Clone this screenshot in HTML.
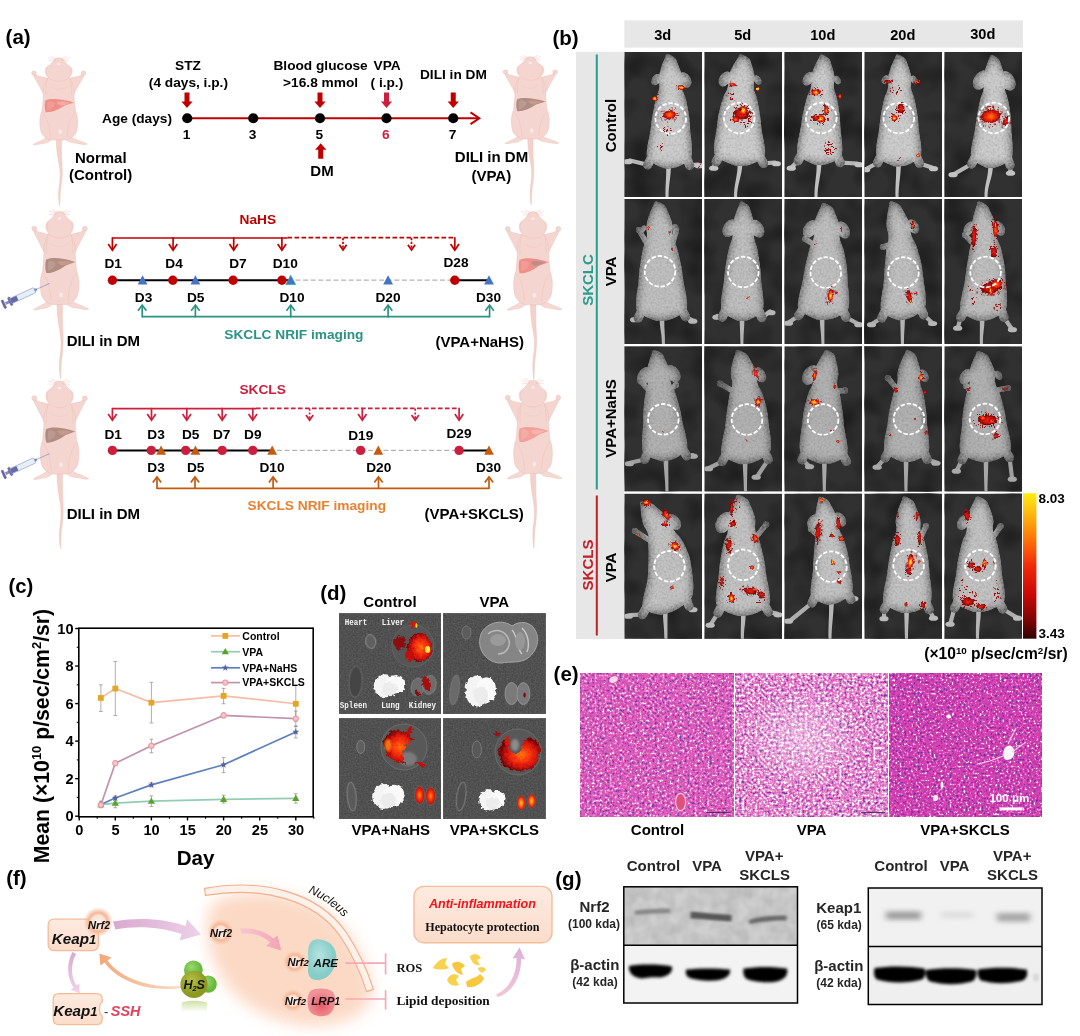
<!DOCTYPE html>
<html lang="en"><head><meta charset="utf-8"><title>Figure</title>
<style>
html,body{margin:0;padding:0;background:#fff;}
body{width:1080px;height:1036px;overflow:hidden;}
svg{display:block;font-family:"Liberation Sans",Arial,sans-serif;}
</style></head><body>
<svg width="1080" height="1036" viewBox="0 0 1080 1036">
<defs>

<symbol id="cm" overflow="visible">
  <!-- tail -->
  <path d="M-2.6 92 C-2.4 104 -1.2 112 0.6 122 C2.2 132 1.4 140 0.2 148 C-0.6 156 0 162 0.9 168 C1.4 160 1.2 154 2 148 C3.4 138 4 130 3.2 120 C2.6 110 2.8 102 2.8 92Z" fill="#f3d2cb" stroke="#e9c0b8" stroke-width="0.5"/>
  <!-- feet -->
  <path d="M-12 90 C-16 94 -21 95 -26 98.5 C-24 99.5 -20 98 -17 97.5 C-14 97.5 -10 96 -7 93Z" fill="#f6d9d3" stroke="#e9c0b8" stroke-width="0.5"/>
  <path d="M12 90 C16 93 22 94 29 98 C26 99.5 21 97.6 18 97 C14 97 10 96 7 93Z" fill="#f6d9d3" stroke="#e9c0b8" stroke-width="0.5"/>
  <!-- arms -->
  <path d="M-11 23.5 L-21 21 L-26.5 17.5 L-25 22.5 C-21 30 -18 36 -15.7 41 L-9 34Z" fill="#f5d5cf" stroke="#e9c0b8" stroke-width="0.5"/>
  <path d="M11 23.5 L21 21 L26.5 17.5 L25 22.5 C21 30 18 36 15.7 41 L9 34Z" fill="#f5d5cf" stroke="#e9c0b8" stroke-width="0.5"/>
  <circle cx="-25.3" cy="17.6" r="2.4" fill="#f3d6d0" stroke="#e6beb6" stroke-width="0.5"/>
  <circle cx="25.3" cy="17.6" r="2.4" fill="#f3d6d0" stroke="#e6beb6" stroke-width="0.5"/>
  <!-- torso -->
  <path d="M-10.4 22 C-14 28 -16 34 -15.7 40 C-15.5 48 -16.6 54 -17 60 C-19.5 66 -20 74 -18.5 82 C-17.6 88 -13 92.5 -6 93.5 L6 93.5 C13 92.5 17.6 88 18.5 82 C20 74 19.5 66 17 60 C16.6 54 15.5 48 15.7 40 C16 34 14 28 10.4 22Z" fill="#f5d5cf" stroke="#e9c0b8" stroke-width="0.5"/>
  <!-- head -->
  <path d="M-4 1.5 C-6 5 -8 8 -12 10.5 C-14.5 13 -14 18 -12 21 C-9 25.5 -4 27 0 27 C4 27 9 25.5 12 21 C14 18 14.5 13 12 10.5 C8 8 6 5 4 1.5 C2 0 -2 0 -4 1.5Z" fill="#f5d5cf" stroke="#e9c0b8" stroke-width="0.5"/>
  <!-- whiskers -->
  <path d="M-3 2.5L-11 0.2M-3 3.5L-10.5 3.6M3 2.5L11 0.2M3 3.5L10.5 3.6M-2 1.5L-8 -1.5M2 1.5L8 -1.5" stroke="#f0c4bc" stroke-width="0.5" fill="none"/>
  <ellipse cx="0" cy="7.5" rx="1.8" ry="1.3" fill="#fbeeea"/>
  <ellipse cx="1.5" cy="84" rx="1.7" ry="2.4" fill="#fbeae6"/>
  <path d="M-9 32 C-6 35 -3 36 0 36M9 32C6 35 3 36 0 36" stroke="#ecc8c0" stroke-width="0.5" fill="none"/>
  <path d="M-17 62 C-12 68 -9 78 -8.5 90M17 62 C12 68 9 78 8.5 90M-11.5 24C-13 30 -13.5 36 -13 42M11.5 24C13 30 13.5 36 13 42" stroke="#ebc4bc" stroke-width="0.55" fill="none"/>
  <path d="M-11 11C-13.5 13 -13 17.5 -11 20M11 11C13.5 13 13 17.5 11 20" stroke="#ebc4bc" stroke-width="0.5" fill="none"/>
</symbol>
<symbol id="liver" overflow="visible">
  <path d="M-13.4 48.5 C-8 45.5 4 47 15.6 51 L6 54.5 C0 59 -7 62.5 -13.4 62 C-14.6 57 -14.6 52 -13.4 48.5Z"/>
</symbol>
<symbol id="syr" overflow="visible">
  <g transform="rotate(-24.5)">
    <rect x="-47" y="-4.6" width="2.2" height="9.2" rx="1" fill="#6a6aa8" stroke="#4c4c90" stroke-width="0.4"/>
    <rect x="-44" y="-1.4" width="6" height="2.8" fill="#8a8ac0"/>
    <rect x="-40" y="-4.4" width="2.4" height="8.8" rx="1" fill="#7070b0" stroke="#4c4c90" stroke-width="0.4"/>
    <rect x="-38" y="-2.8" width="26" height="5.6" rx="0.8" fill="#e6eef8" stroke="#8c9cc8" stroke-width="0.6"/>
    <rect x="-38" y="-2.4" width="7" height="4.8" fill="#6868a8"/>
    <path d="M-12 -1.6L-9.6 -0.9V0.9L-12 1.6Z" fill="#7886c0"/>
    <path d="M-9.6 0H4.5" stroke="#8088c0" stroke-width="0.6"/>
  </g>
</symbol>


<filter id="mshade" x="-10%" y="-10%" width="120%" height="120%" color-interpolation-filters="sRGB">
  <feGaussianBlur in="SourceAlpha" stdDeviation="4.6" result="b"/>
  <feColorMatrix in="b" type="matrix" values="0 0 0 0.56 0.25  0 0 0 0.56 0.25  0 0 0 0.56 0.25  0 0 0 0 1" result="c"/>
  <feGaussianBlur in="SourceAlpha" stdDeviation="0.6" result="e"/>
  <feComposite in="c" in2="e" operator="in" result="m"/>
  <feTurbulence type="fractalNoise" baseFrequency="0.45" numOctaves="2" seed="3" result="n"/>
  <feColorMatrix in="n" type="matrix" values="0 0 0 0.7 0.15  0 0 0 0.7 0.15  0 0 0 0.7 0.15  0 0 0 0 1" result="n2"/>
  <feComposite in="n2" in2="m" operator="in" result="n3"/>
  <feBlend in="n3" in2="m" mode="soft-light"/>
</filter>
<filter id="soft" x="-10%" y="-10%" width="120%" height="120%"><feGaussianBlur stdDeviation="0.5"/></filter>
<filter id="bgn" x="0" y="0" width="100%" height="100%" color-interpolation-filters="sRGB">
  <feTurbulence type="fractalNoise" baseFrequency="0.035" numOctaves="2" seed="8" result="t"/>
  <feColorMatrix in="t" type="matrix" values="0 0 0 0 0.1  0 0 0 0 0.1  0 0 0 0 0.1  0 0 0 1.8 -0.7"/>
</filter>
<filter id="rag" x="-30%" y="-30%" width="160%" height="160%">
  <feTurbulence type="fractalNoise" baseFrequency="0.45" numOctaves="2" seed="5" result="t"/>
  <feDisplacementMap in="SourceGraphic" in2="t" scale="3.2" xChannelSelector="R" yChannelSelector="G"/>
</filter>
<filter id="spk" x="-10%" y="-10%" width="120%" height="120%" color-interpolation-filters="sRGB">
  <feTurbulence type="turbulence" baseFrequency="0.5" numOctaves="2" seed="11" result="t"/>
  <feColorMatrix in="t" type="matrix" values="0 0 0 0 0.62  0 0 0 0 0.04  0 0 0 0 0.03  0 0 0 40 -12.5" result="m"/>
  <feComposite in="m" in2="SourceAlpha" operator="in"/>
</filter>
<radialGradient id="hotY"><stop offset="0" stop-color="#fff24a"/><stop offset="0.28" stop-color="#ffb31a"/><stop offset="0.5" stop-color="#ff5a0c"/><stop offset="0.78" stop-color="#d3140a"/><stop offset="1" stop-color="#7a0505"/></radialGradient>
<radialGradient id="hotO"><stop offset="0" stop-color="#ff8a14"/><stop offset="0.4" stop-color="#f53a0c"/><stop offset="0.8" stop-color="#c9110a"/><stop offset="1" stop-color="#6e0404"/></radialGradient>
<radialGradient id="hotR"><stop offset="0" stop-color="#f0240c"/><stop offset="0.6" stop-color="#c40f0a"/><stop offset="1" stop-color="#640303"/></radialGradient>
<linearGradient id="cbar" x1="0" y1="0" x2="0" y2="1"><stop offset="0" stop-color="#ffee10"/><stop offset="0.12" stop-color="#ffc010"/><stop offset="0.3" stop-color="#ff7a08"/><stop offset="0.5" stop-color="#f22a08"/><stop offset="0.7" stop-color="#c90808"/><stop offset="0.88" stop-color="#7a0404"/><stop offset="1" stop-color="#2e0202"/></linearGradient>


<filter id="dbg" x="0" y="0" width="100%" height="100%" color-interpolation-filters="sRGB">
  <feTurbulence type="fractalNoise" baseFrequency="0.6" numOctaves="2" seed="21" result="t"/>
  <feColorMatrix in="t" type="matrix" values="0 0 0 0.16 0.24  0 0 0 0.16 0.24  0 0 0 0.16 0.24  0 0 0 0 1"/>
</filter>
<filter id="oblur" x="-20%" y="-20%" width="140%" height="140%"><feGaussianBlur stdDeviation="0.7"/></filter>
<filter id="oblur2" x="-20%" y="-20%" width="140%" height="140%"><feGaussianBlur stdDeviation="1.3"/></filter>
<filter id="lungf" x="-20%" y="-20%" width="140%" height="140%">
  <feTurbulence type="fractalNoise" baseFrequency="0.25" numOctaves="2" seed="9" result="t"/>
  <feDisplacementMap in="SourceGraphic" in2="t" scale="5" xChannelSelector="R" yChannelSelector="G" result="d"/>
  <feGaussianBlur in="d" stdDeviation="0.5"/>
</filter>
<filter id="rag2" x="-30%" y="-30%" width="160%" height="160%">
  <feTurbulence type="fractalNoise" baseFrequency="0.3" numOctaves="2" seed="14" result="t"/>
  <feDisplacementMap in="SourceGraphic" in2="t" scale="6" xChannelSelector="R" yChannelSelector="G"/>
</filter>
<radialGradient id="hotL" cx="0.55" cy="0.5"><stop offset="0" stop-color="#ff7a10"/><stop offset="0.35" stop-color="#fb3c0a"/><stop offset="0.75" stop-color="#d6150a"/><stop offset="1" stop-color="#7c0606"/></radialGradient>
<radialGradient id="hotK"><stop offset="0" stop-color="#ffd21e"/><stop offset="0.4" stop-color="#ff760e"/><stop offset="0.8" stop-color="#e8200a"/><stop offset="1" stop-color="#a50b08"/></radialGradient>
<radialGradient id="hotK2"><stop offset="0" stop-color="#ff8a12"/><stop offset="0.5" stop-color="#f2300a"/><stop offset="1" stop-color="#b00c08"/></radialGradient>

<filter id="he1" x="0" y="0" width="100%" height="100%" color-interpolation-filters="sRGB"><feTurbulence type="fractalNoise" baseFrequency="0.4" numOctaves="2" seed="31" result="t"/><feColorMatrix in="t" type="matrix" values="0 0 0 1 0  0 0 0 1 0  0 0 0 1 0  0 0 0 0 1" result="g"/><feComponentTransfer in="g" result="cm"><feFuncR type="table" tableValues="0.439 0.439 0.439 0.439 0.439 0.439 0.439 0.439 0.439 0.439 0.439 0.464 0.587 0.710 0.790 0.804 0.819 0.833 0.847 0.853 0.859 0.865 0.871 0.877 0.889 0.902 0.915 0.930 0.953 0.977 1.000 1.000 1.000 1.000 1.000 1.000 1.000 1.000 1.000 1.000 1.000"/><feFuncG type="table" tableValues="0.243 0.243 0.243 0.243 0.243 0.243 0.243 0.243 0.243 0.243 0.243 0.246 0.260 0.274 0.287 0.300 0.312 0.325 0.337 0.351 0.364 0.378 0.392 0.405 0.457 0.518 0.579 0.648 0.751 0.854 0.957 0.957 0.957 0.957 0.957 0.957 0.957 0.957 0.957 0.957 0.957"/><feFuncB type="table" tableValues="0.659 0.659 0.659 0.659 0.659 0.659 0.659 0.659 0.659 0.659 0.659 0.661 0.672 0.683 0.693 0.700 0.707 0.714 0.722 0.728 0.734 0.740 0.746 0.752 0.772 0.796 0.820 0.849 0.895 0.942 0.988 0.988 0.988 0.988 0.988 0.988 0.988 0.988 0.988 0.988 0.988"/></feComponentTransfer><feGaussianBlur in="cm" stdDeviation="0.42" edgeMode="duplicate"/></filter><filter id="he2" x="0" y="0" width="100%" height="100%" color-interpolation-filters="sRGB"><feTurbulence type="fractalNoise" baseFrequency="0.38" numOctaves="2" seed="47" result="t"/><feColorMatrix in="t" type="matrix" values="0 0 0 1 0  0 0 0 1 0  0 0 0 1 0  0 0 0 0 1" result="g"/><feComponentTransfer in="g" result="cm"><feFuncR type="table" tableValues="0.439 0.439 0.439 0.439 0.439 0.439 0.439 0.439 0.439 0.439 0.439 0.523 0.663 0.803 0.838 0.846 0.855 0.863 0.872 0.881 0.893 0.906 0.918 0.931 0.948 0.967 0.985 1.000 1.000 1.000 1.000 1.000 1.000 1.000 1.000 1.000 1.000 1.000 1.000 1.000 1.000"/><feFuncG type="table" tableValues="0.243 0.243 0.243 0.243 0.243 0.243 0.243 0.243 0.243 0.243 0.243 0.267 0.306 0.345 0.370 0.391 0.412 0.433 0.454 0.480 0.526 0.573 0.619 0.665 0.737 0.816 0.894 0.957 0.957 0.957 0.957 0.957 0.957 0.957 0.957 0.957 0.957 0.957 0.957 0.957 0.957"/><feFuncB type="table" tableValues="0.659 0.659 0.659 0.659 0.659 0.659 0.659 0.659 0.659 0.659 0.659 0.672 0.695 0.717 0.729 0.739 0.749 0.759 0.769 0.780 0.800 0.820 0.839 0.859 0.891 0.925 0.960 0.988 0.988 0.988 0.988 0.988 0.988 0.988 0.988 0.988 0.988 0.988 0.988 0.988 0.988"/></feComponentTransfer><feGaussianBlur in="cm" stdDeviation="0.42" edgeMode="duplicate"/></filter><filter id="he3" x="0" y="0" width="100%" height="100%" color-interpolation-filters="sRGB"><feTurbulence type="fractalNoise" baseFrequency="0.44" numOctaves="2" seed="59" result="t"/><feColorMatrix in="t" type="matrix" values="0 0 0 1 0  0 0 0 1 0  0 0 0 1 0  0 0 0 0 1" result="g"/><feComponentTransfer in="g" result="cm"><feFuncR type="table" tableValues="0.408 0.408 0.408 0.408 0.408 0.408 0.408 0.408 0.408 0.408 0.408 0.408 0.511 0.640 0.769 0.778 0.787 0.796 0.805 0.814 0.819 0.823 0.827 0.832 0.836 0.845 0.876 0.907 0.938 0.969 1.000 1.000 1.000 1.000 1.000 1.000 1.000 1.000 1.000 1.000 1.000"/><feFuncG type="table" tableValues="0.227 0.227 0.227 0.227 0.227 0.227 0.227 0.227 0.227 0.227 0.227 0.227 0.221 0.212 0.204 0.213 0.222 0.231 0.240 0.249 0.259 0.269 0.278 0.288 0.298 0.326 0.427 0.528 0.650 0.803 0.957 0.957 0.957 0.957 0.957 0.957 0.957 0.957 0.957 0.957 0.957"/><feFuncB type="table" tableValues="0.627 0.627 0.627 0.627 0.627 0.627 0.627 0.627 0.627 0.627 0.627 0.627 0.636 0.648 0.659 0.665 0.671 0.677 0.683 0.689 0.695 0.700 0.706 0.711 0.717 0.729 0.769 0.808 0.858 0.923 0.988 0.988 0.988 0.988 0.988 0.988 0.988 0.988 0.988 0.988 0.988"/></feComponentTransfer><feGaussianBlur in="cm" stdDeviation="0.42" edgeMode="duplicate"/></filter><radialGradient id="vpaglow"><stop offset="0" stop-color="#fff" stop-opacity="0.42"/><stop offset="0.6" stop-color="#fff" stop-opacity="0.2"/><stop offset="1" stop-color="#fff" stop-opacity="0"/></radialGradient>

<radialGradient id="nrfg"><stop offset="0" stop-color="#fdeee6"/><stop offset="0.45" stop-color="#fbe2d6"/><stop offset="0.62" stop-color="#f5b694"/><stop offset="1" stop-color="#f7c0a2" stop-opacity="0"/></radialGradient>
<radialGradient id="nucg" cx="0.62" cy="0.45" r="0.62"><stop offset="0" stop-color="#fac8ac"/><stop offset="0.55" stop-color="#fbd6c0"/><stop offset="1" stop-color="#fde8dc" stop-opacity="0"/></radialGradient>
<linearGradient id="parr" x1="0" y1="0" x2="1" y2="0"><stop offset="0" stop-color="#d9a9cf"/><stop offset="1" stop-color="#ecd2e8"/></linearGradient>
<linearGradient id="parr2" x1="0" y1="0" x2="0" y2="1"><stop offset="0" stop-color="#d9a9cf"/><stop offset="1" stop-color="#f0d4ea"/></linearGradient>
<linearGradient id="parr3" x1="0" y1="1" x2="0" y2="0"><stop offset="0" stop-color="#f3c6d6"/><stop offset="1" stop-color="#dcb0d8"/></linearGradient>
<linearGradient id="oarr" x1="1" y1="0" x2="0" y2="0"><stop offset="0" stop-color="#f8dcc8"/><stop offset="1" stop-color="#f3a878"/></linearGradient>
<linearGradient id="pkarr" x1="0" y1="0" x2="1" y2="0"><stop offset="0" stop-color="#f8c6d0"/><stop offset="1" stop-color="#f2a4b6"/></linearGradient>
<linearGradient id="boxg" x1="0" y1="0" x2="0" y2="1"><stop offset="0" stop-color="#fdebe0"/><stop offset="1" stop-color="#fbdcca"/></linearGradient>
<radialGradient id="h2sg" cx="0.4" cy="0.35"><stop offset="0" stop-color="#b6c04a"/><stop offset="1" stop-color="#8c9a22"/></radialGradient>
<radialGradient id="grg" cx="0.4" cy="0.35"><stop offset="0" stop-color="#9ad870"/><stop offset="1" stop-color="#68b83c"/></radialGradient>
<linearGradient id="refl" x1="0" y1="0" x2="0" y2="1"><stop offset="0" stop-color="#a8c858" stop-opacity="0.55"/><stop offset="1" stop-color="#a8c858" stop-opacity="0"/></linearGradient>
<radialGradient id="areg" cx="0.4" cy="0.4"><stop offset="0" stop-color="#b4e4e0"/><stop offset="1" stop-color="#86ccc8"/></radialGradient>
<radialGradient id="lrpg" cx="0.5" cy="0.6"><stop offset="0" stop-color="#e65a66"/><stop offset="1" stop-color="#f0929a"/></radialGradient>
<filter id="fblur" x="-20%" y="-20%" width="140%" height="140%"><feGaussianBlur stdDeviation="7.5"/></filter>


<filter id="bb1" x="-30%" y="-80%" width="160%" height="260%"><feGaussianBlur stdDeviation="1.6 1.1"/></filter>
<filter id="bb2" x="-30%" y="-80%" width="160%" height="260%"><feGaussianBlur stdDeviation="3 2.4"/></filter>
<filter id="bb3" x="-30%" y="-80%" width="160%" height="260%"><feGaussianBlur stdDeviation="1.4 1.5"/></filter>
<filter id="gnoise" x="0" y="0" width="100%" height="100%" color-interpolation-filters="sRGB">
  <feTurbulence type="fractalNoise" baseFrequency="0.08" numOctaves="2" seed="4" result="t"/>
  <feColorMatrix in="t" type="matrix" values="0 0 0 0 0.5  0 0 0 0 0.5  0 0 0 0 0.5  0 0 0 0.5 -0.13"/>
</filter>

</defs>
<rect width="1080" height="1036" fill="#fff"/>
<g id="pa">
<text x="5.60" y="44.00" font-size="20.5" text-anchor="start" fill="#000" font-weight="bold">(a)</text>
<g transform="translate(58.75 57.5) scale(0.98 0.883)"><use href="#cm"/><use href="#liver" fill="#f08e88"/><path d="M-2 50.5 C2 49 8 50 12 51.5 L5 54 C2 55 -1 54 -2 50.5Z" fill="#f6aaa2"/><path d="M-11.5 50 C-8 49 -6 50 -4 52 C-4 56 -8 59 -12 60Z" fill="#fff" opacity="0.13"/></g>
<g transform="translate(530.3 56.5) scale(0.98 0.883)"><use href="#cm"/><use href="#liver" fill="#b18c82"/><path d="M-2 50.5 C2 49 8 50 12 51.5 L5 54 C2 55 -1 54 -2 50.5Z" fill="#c39a8c"/><path d="M-11.5 50 C-8 49 -6 50 -4 52 C-4 56 -8 59 -12 60Z" fill="#fff" opacity="0.13"/></g>
<g transform="translate(59.6 211) scale(1.0 1.0)"><use href="#cm"/><use href="#liver" fill="#b18c82"/><path d="M-2 50.5 C2 49 8 50 12 51.5 L5 54 C2 55 -1 54 -2 50.5Z" fill="#c39a8c"/><path d="M-11.5 50 C-8 49 -6 50 -4 52 C-4 56 -8 59 -12 60Z" fill="#fff" opacity="0.13"/></g>
<g transform="translate(533 211.3) scale(1.0 1.0)"><use href="#cm"/><use href="#liver" fill="#f08e88"/><path d="M-2 50.5 C2 49 8 50 12 51.5 L5 54 C2 55 -1 54 -2 50.5Z" fill="#b89088"/><path d="M-11.5 50 C-8 49 -6 50 -4 52 C-4 56 -8 59 -12 60Z" fill="#fff" opacity="0.13"/></g>
<g transform="translate(59.6 380.6) scale(1.0 1.0)"><use href="#cm"/><use href="#liver" fill="#b18c82"/><path d="M-2 50.5 C2 49 8 50 12 51.5 L5 54 C2 55 -1 54 -2 50.5Z" fill="#c39a8c"/><path d="M-11.5 50 C-8 49 -6 50 -4 52 C-4 56 -8 59 -12 60Z" fill="#fff" opacity="0.13"/></g>
<g transform="translate(533 380) scale(1.0 1.0)"><use href="#cm"/><use href="#liver" fill="#f3a09a"/><path d="M-2 50.5 C2 49 8 50 12 51.5 L5 54 C2 55 -1 54 -2 50.5Z" fill="#f6b4ac"/><path d="M-11.5 50 C-8 49 -6 50 -4 52 C-4 56 -8 59 -12 60Z" fill="#fff" opacity="0.13"/></g>
<use href="#syr" x="45.6" y="285.2"/>
<use href="#syr" x="45.6" y="455.4"/>
<text x="188.00" y="70.00" font-size="13.7" text-anchor="middle" fill="#000" font-weight="bold">STZ</text>
<text x="188.40" y="86.60" font-size="13.7" text-anchor="middle" fill="#000" font-weight="bold">(4 days, i.p.)</text>
<text x="320.60" y="70.00" font-size="13.7" text-anchor="middle" fill="#000" font-weight="bold">Blood glucose</text>
<text x="387.10" y="70.00" font-size="13.7" text-anchor="middle" fill="#000" font-weight="bold">VPA</text>
<text x="320.60" y="86.80" font-size="13.7" text-anchor="middle" fill="#000" font-weight="bold">&gt;16.8 mmol</text>
<text x="386.90" y="86.80" font-size="13.7" text-anchor="middle" fill="#000" font-weight="bold">( i.p.)</text>
<text x="453.40" y="78.80" font-size="13.7" text-anchor="middle" fill="#000" font-weight="bold">DILI in DM</text>
<text x="172.00" y="122.60" font-size="13.7" text-anchor="end" fill="#000" font-weight="bold">Age (days)</text>
<path d="M187 118.25H478.5" stroke="#c00000" stroke-width="2"/>
<path d="M470.5 112.3L479.3 118.25L470.5 124.2" stroke="#c00000" stroke-width="2" fill="none"/>
<circle cx="187.25" cy="118.25" r="5.1" fill="#000"/>
<circle cx="253.25" cy="118.25" r="5.1" fill="#000"/>
<circle cx="320" cy="118.25" r="5.1" fill="#000"/>
<circle cx="386.5" cy="118.25" r="5.1" fill="#000"/>
<circle cx="453.25" cy="118.25" r="5.1" fill="#000"/>
<text x="186.65" y="138.60" font-size="13.7" text-anchor="middle" fill="#000" font-weight="bold">1</text>
<text x="252.65" y="138.60" font-size="13.7" text-anchor="middle" fill="#000" font-weight="bold">3</text>
<text x="319.40" y="138.60" font-size="13.7" text-anchor="middle" fill="#000" font-weight="bold">5</text>
<text x="385.90" y="138.60" font-size="13.7" text-anchor="middle" fill="#cb1f3d" font-weight="bold">6</text>
<text x="452.65" y="138.60" font-size="13.7" text-anchor="middle" fill="#000" font-weight="bold">7</text>
<path d="M184.5 92.5H189.5V101.5H192.6L187 108L181.4 101.5H184.5Z" fill="#c00000"/>
<path d="M317.5 92.5H322.5V101.5H325.6L320 108L314.4 101.5H317.5Z" fill="#c00000"/>
<path d="M384 92.5H389V101.5H392.1L386.5 108L380.9 101.5H384Z" fill="#cb1f3d"/>
<path d="M450.75 92.5H455.75V101.5H458.85L453.25 108L447.65 101.5H450.75Z" fill="#c00000"/>
<path d="M318.2 158.8H323.2V149.8H326.3L320.7 143.3L315.1 149.8H318.2Z" fill="#c00000"/>
<text x="322.00" y="175.80" font-size="15" text-anchor="middle" fill="#000" font-weight="bold">DM</text>
<text x="100.75" y="162.50" font-size="15" text-anchor="middle" fill="#000" font-weight="bold">Normal</text>
<text x="100.60" y="180.00" font-size="15" text-anchor="middle" fill="#000" font-weight="bold">(Control)</text>
<text x="491.50" y="161.80" font-size="15" text-anchor="middle" fill="#000" font-weight="bold">DILI in DM</text>
<text x="491.30" y="181.00" font-size="15" text-anchor="middle" fill="#000" font-weight="bold">(VPA)</text>
<text x="257.80" y="224.40" font-size="13.7" text-anchor="middle" fill="#c00000" font-weight="bold">NaHS</text>
<path d="M112.4 238H287.5" stroke="#c00000" stroke-width="1.7" fill="none"/>
<path d="M287.5 237.6H454.8" stroke="#c00000" stroke-width="1.7" fill="none" stroke-dasharray="4.6 2.4"/>
<path d="M112.4 237.2V249.7" stroke="#c00000" stroke-width="1.7" fill="none"/><path d="M108.2 244L112.4 250.2L116.6 244" stroke="#c00000" stroke-width="1.7" fill="none" stroke-linejoin="miter"/>
<path d="M173.1 237.2V249.7" stroke="#c00000" stroke-width="1.7" fill="none"/><path d="M168.9 244L173.1 250.2L177.3 244" stroke="#c00000" stroke-width="1.7" fill="none" stroke-linejoin="miter"/>
<path d="M233.7 237.2V249.7" stroke="#c00000" stroke-width="1.7" fill="none"/><path d="M229.5 244L233.7 250.2L237.9 244" stroke="#c00000" stroke-width="1.7" fill="none" stroke-linejoin="miter"/>
<path d="M281.9 237.2V249.7" stroke="#c00000" stroke-width="1.7" fill="none"/><path d="M277.7 244L281.9 250.2L286.1 244" stroke="#c00000" stroke-width="1.7" fill="none" stroke-linejoin="miter"/>
<path d="M454.8 237.2V249.7" stroke="#c00000" stroke-width="1.7" fill="none"/><path d="M450.6 244L454.8 250.2L459 244" stroke="#c00000" stroke-width="1.7" fill="none" stroke-linejoin="miter"/>
<path d="M343 238V249.5" stroke="#c00000" stroke-width="1.7" fill="none" stroke-dasharray="2.2 1.6"/><path d="M339.4 244.8L343 250L346.6 244.8" stroke="#c00000" stroke-width="1.7" fill="none" stroke-linejoin="miter"/>
<path d="M411.5 238V249.5" stroke="#c00000" stroke-width="1.7" fill="none" stroke-dasharray="2.2 1.6"/><path d="M407.9 244.8L411.5 250L415.1 244.8" stroke="#c00000" stroke-width="1.7" fill="none" stroke-linejoin="miter"/>
<text x="113.20" y="268.40" font-size="13.7" text-anchor="middle" fill="#000" font-weight="bold">D1</text>
<text x="174.00" y="268.40" font-size="13.7" text-anchor="middle" fill="#000" font-weight="bold">D4</text>
<text x="237.90" y="268.40" font-size="13.7" text-anchor="middle" fill="#000" font-weight="bold">D7</text>
<text x="285.30" y="268.40" font-size="13.7" text-anchor="middle" fill="#000" font-weight="bold">D10</text>
<text x="456.00" y="267.20" font-size="13.7" text-anchor="middle" fill="#000" font-weight="bold">D28</text>
<path d="M112.4 280.2H290.7M454.8 280.2H489" stroke="#000" stroke-width="2"/>
<path d="M295.5 280.2H452" stroke="#b4b4b4" stroke-width="1.2" stroke-dasharray="5 2.6"/>
<circle cx="112.4" cy="280.2" r="4.7" fill="#c00000"/>
<circle cx="172.8" cy="280.2" r="4.7" fill="#c00000"/>
<circle cx="233.1" cy="280.2" r="4.7" fill="#c00000"/>
<circle cx="281.9" cy="280.2" r="4.7" fill="#c00000"/>
<circle cx="454.8" cy="280.2" r="4.7" fill="#c00000"/>
<path d="M142.6 275.3L147.5 284.6H137.7Z" fill="#4472c4"/>
<path d="M195.4 275.3L200.3 284.6H190.5Z" fill="#4472c4"/>
<path d="M290.7 275.3L295.6 284.6H285.8Z" fill="#4472c4" stroke="#3aa99c" stroke-width="0.8"/>
<path d="M388.1 275.3L393 284.6H383.2Z" fill="#4472c4"/>
<path d="M489 275.3L493.9 284.6H484.1Z" fill="#4472c4"/>
<text x="143.50" y="301.80" font-size="13.7" text-anchor="middle" fill="#000" font-weight="bold">D3</text>
<text x="195.70" y="301.80" font-size="13.7" text-anchor="middle" fill="#000" font-weight="bold">D5</text>
<text x="292.00" y="301.80" font-size="13.7" text-anchor="middle" fill="#000" font-weight="bold">D10</text>
<text x="388.00" y="301.80" font-size="13.7" text-anchor="middle" fill="#000" font-weight="bold">D20</text>
<text x="488.50" y="301.80" font-size="13.7" text-anchor="middle" fill="#000" font-weight="bold">D30</text>
<path d="M142.2 316.7H489.6" stroke="#2a9384" stroke-width="1.7"/>
<path d="M142.2 317.5V305.6" stroke="#2a9384" stroke-width="1.7" fill="none"/><path d="M138 310.8L142.2 305.1L146.4 310.8" stroke="#2a9384" stroke-width="1.7" fill="none"/>
<path d="M195.4 317.5V305.6" stroke="#2a9384" stroke-width="1.7" fill="none"/><path d="M191.2 310.8L195.4 305.1L199.6 310.8" stroke="#2a9384" stroke-width="1.7" fill="none"/>
<path d="M290.7 317.5V305.6" stroke="#2a9384" stroke-width="1.7" fill="none"/><path d="M286.5 310.8L290.7 305.1L294.9 310.8" stroke="#2a9384" stroke-width="1.7" fill="none"/>
<path d="M388.1 317.5V305.6" stroke="#2a9384" stroke-width="1.7" fill="none"/><path d="M383.9 310.8L388.1 305.1L392.3 310.8" stroke="#2a9384" stroke-width="1.7" fill="none"/>
<path d="M489.6 317.5V305.6" stroke="#2a9384" stroke-width="1.7" fill="none"/><path d="M485.4 310.8L489.6 305.1L493.8 310.8" stroke="#2a9384" stroke-width="1.7" fill="none"/>
<text x="293.90" y="339.30" font-size="13.7" text-anchor="middle" fill="#2a9384" font-weight="bold">SKCLC NRIF imaging</text>
<text x="66.70" y="345.90" font-size="15" text-anchor="start" fill="#000" font-weight="bold">DILI in DM</text>
<text x="479.70" y="346.70" font-size="15" text-anchor="middle" fill="#000" font-weight="bold">(VPA+NaHS)</text>
<text x="262.60" y="394.40" font-size="13.7" text-anchor="middle" fill="#cb1f3d" font-weight="bold">SKCLS</text>
<path d="M112.4 408.6H256" stroke="#cb1f3d" stroke-width="1.7" fill="none"/>
<path d="M256 408.4H459.1" stroke="#cb1f3d" stroke-width="1.7" fill="none" stroke-dasharray="4.6 2.4"/>
<path d="M112.4 407.8V419.7" stroke="#cb1f3d" stroke-width="1.7" fill="none"/><path d="M108.2 414L112.4 420.2L116.6 414" stroke="#cb1f3d" stroke-width="1.7" fill="none" stroke-linejoin="miter"/>
<path d="M151.5 407.8V419.7" stroke="#cb1f3d" stroke-width="1.7" fill="none"/><path d="M147.3 414L151.5 420.2L155.7 414" stroke="#cb1f3d" stroke-width="1.7" fill="none" stroke-linejoin="miter"/>
<path d="M186.8 407.8V419.7" stroke="#cb1f3d" stroke-width="1.7" fill="none"/><path d="M182.6 414L186.8 420.2L191 414" stroke="#cb1f3d" stroke-width="1.7" fill="none" stroke-linejoin="miter"/>
<path d="M222.2 407.8V419.7" stroke="#cb1f3d" stroke-width="1.7" fill="none"/><path d="M218 414L222.2 420.2L226.4 414" stroke="#cb1f3d" stroke-width="1.7" fill="none" stroke-linejoin="miter"/>
<path d="M252.8 407.8V419.7" stroke="#cb1f3d" stroke-width="1.7" fill="none"/><path d="M248.6 414L252.8 420.2L257 414" stroke="#cb1f3d" stroke-width="1.7" fill="none" stroke-linejoin="miter"/>
<path d="M362.3 407.8V419.7" stroke="#cb1f3d" stroke-width="1.7" fill="none"/><path d="M358.1 414L362.3 420.2L366.5 414" stroke="#cb1f3d" stroke-width="1.7" fill="none" stroke-linejoin="miter"/>
<path d="M459.1 407.8V419.7" stroke="#cb1f3d" stroke-width="1.7" fill="none"/><path d="M454.9 414L459.1 420.2L463.3 414" stroke="#cb1f3d" stroke-width="1.7" fill="none" stroke-linejoin="miter"/>
<path d="M309.6 408.6V419.7" stroke="#cb1f3d" stroke-width="1.7" fill="none" stroke-dasharray="2.2 1.6"/><path d="M306 415L309.6 420.2L313.2 415" stroke="#cb1f3d" stroke-width="1.7" fill="none" stroke-linejoin="miter"/>
<path d="M415.2 408.6V419.7" stroke="#cb1f3d" stroke-width="1.7" fill="none" stroke-dasharray="2.2 1.6"/><path d="M411.6 415L415.2 420.2L418.8 415" stroke="#cb1f3d" stroke-width="1.7" fill="none" stroke-linejoin="miter"/>
<text x="113.20" y="438.90" font-size="13.7" text-anchor="middle" fill="#000" font-weight="bold">D1</text>
<text x="156.10" y="438.90" font-size="13.7" text-anchor="middle" fill="#000" font-weight="bold">D3</text>
<text x="190.70" y="438.90" font-size="13.7" text-anchor="middle" fill="#000" font-weight="bold">D5</text>
<text x="221.70" y="438.90" font-size="13.7" text-anchor="middle" fill="#000" font-weight="bold">D7</text>
<text x="252.80" y="438.90" font-size="13.7" text-anchor="middle" fill="#000" font-weight="bold">D9</text>
<text x="360.70" y="439.80" font-size="13.7" text-anchor="middle" fill="#000" font-weight="bold">D19</text>
<text x="459.00" y="437.70" font-size="13.7" text-anchor="middle" fill="#000" font-weight="bold">D29</text>
<path d="M112.4 450.4H272.2M459.1 450.4H489" stroke="#000" stroke-width="2"/>
<path d="M277 450.4H456" stroke="#b4b4b4" stroke-width="1.2" stroke-dasharray="5 2.6"/>
<circle cx="112.4" cy="450.4" r="4.7" fill="#cb1f3d"/>
<circle cx="151.3" cy="450.4" r="4.7" fill="#cb1f3d"/>
<circle cx="185.7" cy="450.4" r="4.7" fill="#cb1f3d"/>
<circle cx="222.2" cy="450.4" r="4.7" fill="#cb1f3d"/>
<circle cx="252.8" cy="450.4" r="4.7" fill="#cb1f3d"/>
<circle cx="360.6" cy="450.4" r="4.7" fill="#cb1f3d"/>
<circle cx="459.1" cy="450.4" r="4.7" fill="#cb1f3d"/>
<path d="M161.1 445.5L166 454.8H156.2Z" fill="#c55a11"/>
<path d="M195.4 445.5L200.3 454.8H190.5Z" fill="#c55a11"/>
<path d="M272.2 445.5L277.1 454.8H267.3Z" fill="#c55a11"/>
<path d="M378.3 445.5L383.2 454.8H373.4Z" fill="#c55a11"/>
<path d="M489 445.5L493.9 454.8H484.1Z" fill="#c55a11"/>
<text x="156.10" y="472.40" font-size="13.7" text-anchor="middle" fill="#000" font-weight="bold">D3</text>
<text x="195.70" y="472.40" font-size="13.7" text-anchor="middle" fill="#000" font-weight="bold">D5</text>
<text x="272.00" y="472.40" font-size="13.7" text-anchor="middle" fill="#000" font-weight="bold">D10</text>
<text x="378.80" y="472.40" font-size="13.7" text-anchor="middle" fill="#000" font-weight="bold">D20</text>
<text x="488.50" y="472.40" font-size="13.7" text-anchor="middle" fill="#000" font-weight="bold">D30</text>
<path d="M157 488.3H489" stroke="#c55a11" stroke-width="1.7"/>
<path d="M157 489.1V477.4" stroke="#c55a11" stroke-width="1.7" fill="none"/><path d="M152.8 482.6L157 476.9L161.2 482.6" stroke="#c55a11" stroke-width="1.7" fill="none"/>
<path d="M195 489.1V477.4" stroke="#c55a11" stroke-width="1.7" fill="none"/><path d="M190.8 482.6L195 476.9L199.2 482.6" stroke="#c55a11" stroke-width="1.7" fill="none"/>
<path d="M273.1 489.1V477.4" stroke="#c55a11" stroke-width="1.7" fill="none"/><path d="M268.9 482.6L273.1 476.9L277.3 482.6" stroke="#c55a11" stroke-width="1.7" fill="none"/>
<path d="M378.5 489.1V477.4" stroke="#c55a11" stroke-width="1.7" fill="none"/><path d="M374.3 482.6L378.5 476.9L382.7 482.6" stroke="#c55a11" stroke-width="1.7" fill="none"/>
<path d="M489 489.1V477.4" stroke="#c55a11" stroke-width="1.7" fill="none"/><path d="M484.8 482.6L489 476.9L493.2 482.6" stroke="#c55a11" stroke-width="1.7" fill="none"/>
<text x="316.80" y="509.80" font-size="13.7" text-anchor="middle" fill="#e8812f" font-weight="bold">SKCLS NRIF imaging</text>
<text x="66.70" y="518.90" font-size="15" text-anchor="start" fill="#000" font-weight="bold">DILI in DM</text>
<text x="474.20" y="519.00" font-size="15" text-anchor="middle" fill="#000" font-weight="bold">(VPA+SKCLS)</text>
</g>
<g id="pb">
<text x="552.50" y="45.00" font-size="20.5" text-anchor="start" fill="#000" font-weight="bold">(b)</text>
<rect x="624.3" y="20.4" width="398.7" height="27.2" fill="#e7e7e7"/>
<rect x="576" y="51.8" width="48.3" height="587.2" fill="#e7e7e7"/>
<text x="662.75" y="39.60" font-size="14.6" text-anchor="middle" fill="#000" font-weight="bold">3d</text>
<text x="742.75" y="39.60" font-size="14.6" text-anchor="middle" fill="#000" font-weight="bold">5d</text>
<text x="822.75" y="39.60" font-size="14.6" text-anchor="middle" fill="#000" font-weight="bold">10d</text>
<text x="902.75" y="39.60" font-size="14.6" text-anchor="middle" fill="#000" font-weight="bold">20d</text>
<text x="982.75" y="39.20" font-size="14.6" text-anchor="middle" fill="#000" font-weight="bold">30d</text>
<path d="M596.8 54.5V489.5" stroke="#2a9d8f" stroke-width="2"/>
<path d="M596.8 495.5V635.5" stroke="#c21f26" stroke-width="2"/>
<text transform="translate(615.6 125.6) rotate(-90)" font-size="15" font-weight="bold" text-anchor="middle" fill="#000">Control</text>
<text transform="translate(615.6 271.5) rotate(-90)" font-size="15" font-weight="bold" text-anchor="middle" fill="#000">VPA</text>
<text transform="translate(615.6 418.5) rotate(-90)" font-size="15" font-weight="bold" text-anchor="middle" fill="#000">VPA+NaHS</text>
<text transform="translate(615.6 567.5) rotate(-90)" font-size="15" font-weight="bold" text-anchor="middle" fill="#000">VPA</text>
<text transform="translate(592.8 280) rotate(-90)" font-size="15" font-weight="bold" text-anchor="middle" fill="#2a9d8f">SKCLC</text>
<text transform="translate(592.8 565) rotate(-90)" font-size="15" font-weight="bold" text-anchor="middle" fill="#c21f26">SKCLS</text>
<clipPath id="cc00"><rect x="624.5" y="52.0" width="77.5" height="145.0"/></clipPath>
<rect x="624.5" y="52.0" width="77.5" height="145.0" fill="#313131"/>
<rect x="624.5" y="52.0" width="77.5" height="145.0" filter="url(#bgn)"/>
<g clip-path="url(#cc00)">
<g opacity="0.96"><g filter="url(#soft)"><path d="M647.7 164.83L630 160.5" stroke="#bdbdbd" stroke-width="4.2" stroke-linecap="round" fill="none"/><ellipse cx="627.88" cy="161.7" rx="4.6" ry="2.6" fill="#cacaca"/><path d="M689.69 165.31L698 164.5" stroke="#bdbdbd" stroke-width="4.2" stroke-linecap="round" fill="none"/><ellipse cx="699" cy="165.7" rx="4.6" ry="2.6" fill="#cacaca"/><path d="M666.17 165.36C666.57 179.36 665.2 183 665.5 198H668.5C668.6 183 670.77 179.36 670.97 165.36Z" fill="#c6c6c6"/></g>
<g filter="url(#mshade)"><path d="M667.2 53.97C665.53 53.95 665.75 56.24 664.94 57.95C664.13 59.66 663.14 62.04 662.35 64.22C661.55 66.41 660.73 68.78 660.16 71.07C659.59 73.35 659.06 75.64 658.95 77.92C658.84 80.21 659.52 82.7 659.5 84.8C659.47 86.9 659.33 88.43 658.79 90.52C658.25 92.61 657.01 94.7 656.26 97.36C655.5 100.03 654.95 103.07 654.25 106.5C653.56 109.93 652.76 113.74 652.11 117.93C651.45 122.12 651 127.46 650.32 131.65C649.65 135.84 648.64 139.65 648.05 143.07C647.46 146.5 646.87 149.74 646.79 152.22C646.71 154.7 646.5 156.13 647.58 157.96C648.67 159.78 650.96 161.62 653.29 163.17C655.62 164.73 659.45 166.39 661.57 167.28C663.68 168.16 663.67 168.45 666 168.47C668.33 168.5 672.52 168.26 675.56 167.44C678.61 166.61 681.79 165.02 684.29 163.53C686.79 162.03 689.3 160.24 690.58 158.44C691.86 156.65 691.81 155.21 691.99 152.73C692.17 150.26 691.92 147.01 691.65 143.57C691.37 140.13 690.71 136.31 690.32 132.1C689.93 127.9 689.78 122.55 689.31 118.35C688.83 114.15 688.1 110.32 687.45 106.88C686.81 103.43 686.23 100.37 685.45 97.69C684.68 95.01 683.38 92.9 682.79 90.79C682.2 88.69 682 87.16 681.9 85.06C681.79 82.96 682.37 80.48 682.15 78.19C681.92 75.9 681.26 73.6 680.56 71.3C679.86 69 678.88 66.6 677.95 64.4C677.01 62.19 676.73 59.8 674.94 58.07C673.15 56.33 668.87 53.99 667.2 53.97Z"/><ellipse cx="656.19" cy="79.61" rx="4.2" ry="6.15" transform="rotate(32.65 656.19 79.61)"/><ellipse cx="684.99" cy="79.94" rx="5.6" ry="8.2" transform="rotate(-31.35 684.99 79.94)"/><path d="M654.39 152.31L647.7 164.83" stroke="#000" stroke-width="9" stroke-linecap="round" fill="none"/><path d="M684.39 152.65L689.69 165.31" stroke="#000" stroke-width="9" stroke-linecap="round" fill="none"/></g></g>
<g filter="url(#rag)"><ellipse cx="669.6" cy="114.8" rx="9.99" ry="7.38" transform="rotate(-8 669.6 114.8)" fill="#a80c08" filter="url(#spk)"/><ellipse cx="654.8" cy="98.6" rx="5.21" ry="4.92" transform="rotate(0 654.8 98.6)" fill="#a80c08" filter="url(#spk)"/><ellipse cx="681.2" cy="87.6" rx="5.93" ry="4.19" transform="rotate(10 681.2 87.6)" fill="#a80c08" filter="url(#spk)"/><ellipse cx="669.6" cy="114.8" rx="6.2" ry="4.4" transform="rotate(-8 669.6 114.8)" fill="url(#hotO)"/><ellipse cx="654.8" cy="98.6" rx="2.9" ry="2.7" transform="rotate(0 654.8 98.6)" fill="url(#hotY)"/><ellipse cx="681.2" cy="87.6" rx="3.4" ry="2.2" transform="rotate(10 681.2 87.6)" fill="url(#hotY)"/><ellipse cx="667" cy="131" rx="5" ry="4.5" transform="rotate(0 667 131)" fill="#a80c08" filter="url(#spk)"/><ellipse cx="697.5" cy="164" rx="3.5" ry="4" transform="rotate(0 697.5 164)" fill="#a80c08" filter="url(#spk)"/><ellipse cx="660" cy="146" rx="3" ry="6" transform="rotate(0 660 146)" fill="#a80c08" filter="url(#spk)"/></g>
<circle cx="670.7" cy="118.5" r="15.3" fill="none" stroke="#fff" stroke-width="1.8" stroke-dasharray="4.4 1.9"/>
</g>
<clipPath id="cc01"><rect x="704.5" y="52.0" width="77.5" height="145.0"/></clipPath>
<rect x="704.5" y="52.0" width="77.5" height="145.0" fill="#313131"/>
<rect x="704.5" y="52.0" width="77.5" height="145.0" filter="url(#bgn)"/>
<g clip-path="url(#cc01)">
<g opacity="0.96"><g filter="url(#soft)"><path d="M716.17 161.84L714 167" stroke="#bdbdbd" stroke-width="4.2" stroke-linecap="round" fill="none"/><ellipse cx="713.74" cy="168.2" rx="4.6" ry="2.6" fill="#cacaca"/><path d="M763.61 163.46L775 162.5" stroke="#bdbdbd" stroke-width="4.2" stroke-linecap="round" fill="none"/><ellipse cx="776.37" cy="163.7" rx="4.6" ry="2.6" fill="#cacaca"/><path d="M737.56 162.88C737.96 176.88 733.7 183 734 198H737C737.1 183 742.16 176.88 742.36 162.88Z" fill="#c6c6c6"/></g>
<g filter="url(#mshade)"><path d="M740.86 54.4C738.98 54.34 738.9 56.57 737.76 58.2C736.61 59.84 735.17 62.11 733.98 64.21C732.79 66.31 731.55 68.59 730.63 70.8C729.7 73 728.82 75.2 728.44 77.42C728.05 79.64 728.57 82.07 728.33 84.11C728.09 86.15 727.79 87.63 727.01 89.65C726.23 91.67 724.66 93.66 723.64 96.23C722.63 98.8 721.82 101.75 720.93 105.07C720.04 108.39 719.04 112.08 718.32 116.14C717.6 120.21 717.21 125.41 716.61 129.48C716.01 133.55 715.13 137.24 714.69 140.58C714.26 143.91 713.87 147.06 713.99 149.49C714.11 151.91 714 153.3 715.39 155.11C716.78 156.93 719.55 158.79 722.33 160.37C725.11 161.96 729.58 163.69 732.06 164.61C734.53 165.53 734.54 165.81 737.18 165.9C739.81 165.99 744.51 165.87 747.87 165.15C751.23 164.43 754.66 162.96 757.34 161.57C760.02 160.17 762.67 158.49 763.96 156.77C765.24 155.05 765.04 153.64 765.04 151.23C765.03 148.81 764.47 145.62 763.93 142.26C763.39 138.89 762.38 135.13 761.78 131.02C761.18 126.91 760.89 121.69 760.33 117.58C759.77 113.46 759.04 109.72 758.43 106.35C757.81 102.98 757.34 99.99 756.62 97.36C755.9 94.73 754.62 92.64 754.12 90.57C753.62 88.51 753.54 87.02 753.63 84.97C753.72 82.93 754.63 80.54 754.64 78.31C754.64 76.08 754.17 73.83 753.66 71.58C753.16 69.33 752.37 66.98 751.6 64.81C750.83 62.65 750.84 60.32 749.05 58.59C747.26 56.85 742.75 54.46 740.86 54.4Z"/><ellipse cx="725.13" cy="78.98" rx="5.6" ry="8.2" transform="rotate(33.95 725.13 78.98)"/><ellipse cx="757.65" cy="80.09" rx="3.36" ry="4.92" transform="rotate(-30.05 757.65 80.09)"/><path d="M722.57 149.78L716.17 161.84" stroke="#000" stroke-width="9" stroke-linecap="round" fill="none"/><path d="M756.45 150.93L763.61 163.46" stroke="#000" stroke-width="9" stroke-linecap="round" fill="none"/></g></g>
<g filter="url(#rag)"><ellipse cx="741.5" cy="113.5" rx="11.88" ry="9.7" transform="rotate(0 741.5 113.5)" fill="#a80c08" filter="url(#spk)"/><ellipse cx="743.4" cy="110.5" rx="6.8" ry="7.67" transform="rotate(0 743.4 110.5)" fill="#a80c08" filter="url(#spk)"/><ellipse cx="735.5" cy="119.5" rx="6.22" ry="4.77" transform="rotate(0 735.5 119.5)" fill="#a80c08" filter="url(#spk)"/><ellipse cx="732.6" cy="84.6" rx="5.35" ry="3.32" transform="rotate(0 732.6 84.6)" fill="#a80c08" filter="url(#spk)"/><ellipse cx="741" cy="115" rx="11" ry="8.5" transform="rotate(0 741 115)" fill="#a80c08" filter="url(#spk)"/><ellipse cx="741.5" cy="113.5" rx="7.5" ry="6" transform="rotate(0 741.5 113.5)" fill="url(#hotR)"/><ellipse cx="743.4" cy="110.5" rx="4" ry="4.6" transform="rotate(0 743.4 110.5)" fill="url(#hotY)"/><ellipse cx="735.5" cy="119.5" rx="3.6" ry="2.6" transform="rotate(0 735.5 119.5)" fill="url(#hotO)"/><ellipse cx="731.5" cy="96.5" rx="5" ry="5" transform="rotate(0 731.5 96.5)" fill="#a80c08" filter="url(#spk)"/><ellipse cx="732.6" cy="84.6" rx="3" ry="1.6" transform="rotate(0 732.6 84.6)" fill="url(#hotO)"/><ellipse cx="757.6" cy="88.8" rx="2.2" ry="2.4" transform="rotate(0 757.6 88.8)" fill="url(#hotY)"/><ellipse cx="748" cy="124" rx="5" ry="4" transform="rotate(0 748 124)" fill="#a80c08" filter="url(#spk)"/></g>
<circle cx="739.3" cy="118" r="15.3" fill="none" stroke="#fff" stroke-width="1.8" stroke-dasharray="4.4 1.9"/>
</g>
<clipPath id="cc02"><rect x="784.5" y="52.0" width="77.5" height="145.0"/></clipPath>
<rect x="784.5" y="52.0" width="77.5" height="145.0" fill="#313131"/>
<rect x="784.5" y="52.0" width="77.5" height="145.0" filter="url(#bgn)"/>
<g clip-path="url(#cc02)">
<g opacity="0.96"><g filter="url(#soft)"><path d="M798.17 160.74L792 167" stroke="#bdbdbd" stroke-width="4.2" stroke-linecap="round" fill="none"/><ellipse cx="791.26" cy="168.2" rx="4.6" ry="2.6" fill="#cacaca"/><path d="M840.13 162.63L857 163.5" stroke="#bdbdbd" stroke-width="4.2" stroke-linecap="round" fill="none"/><ellipse cx="859.02" cy="164.7" rx="4.6" ry="2.6" fill="#cacaca"/><path d="M816.65 161.89C817.05 175.89 814.2 183 814.5 198H817.5C817.6 183 821.25 175.89 821.45 161.89Z" fill="#c6c6c6"/></g>
<g filter="url(#mshade)"><path d="M821.4 54.38C819.74 54.31 819.77 56.52 818.83 58.14C817.89 59.76 816.72 62.01 815.76 64.09C814.8 66.17 813.79 68.43 813.06 70.61C812.33 72.8 811.63 74.98 811.36 77.18C811.1 79.38 811.62 81.81 811.46 83.83C811.3 85.85 811.07 87.32 810.41 89.32C809.75 91.32 808.4 93.29 807.51 95.83C806.63 98.37 805.93 101.29 805.12 104.58C804.3 107.86 803.37 111.51 802.62 115.54C801.87 119.57 801.34 124.71 800.62 128.74C799.9 132.76 798.91 136.41 798.32 139.7C797.74 143 797.18 146.11 797.12 148.51C797.06 150.9 796.87 152.28 797.97 154.08C799.07 155.89 801.39 157.74 803.74 159.33C806.09 160.91 809.93 162.65 812.06 163.58C814.18 164.51 814.17 164.78 816.5 164.89C818.83 164.99 823.01 164.9 826.04 164.21C829.08 163.52 832.23 162.09 834.71 160.73C837.19 159.36 839.67 157.72 840.93 156.03C842.19 154.33 842.12 152.94 842.28 150.55C842.44 148.16 842.16 145.01 841.88 141.68C841.59 138.34 840.93 134.62 840.58 130.54C840.23 126.47 840.16 121.3 839.78 117.22C839.4 113.14 838.8 109.43 838.28 106.08C837.77 102.74 837.33 99.76 836.69 97.15C836.04 94.54 834.86 92.45 834.39 90.4C833.91 88.35 833.81 86.87 833.84 84.84C833.86 82.81 834.6 80.45 834.54 78.23C834.47 76.01 833.97 73.77 833.44 71.54C832.91 69.3 832.11 66.95 831.34 64.8C830.57 62.64 830.48 60.33 828.82 58.59C827.16 56.86 823.07 54.46 821.4 54.38Z"/><ellipse cx="808.49" cy="78.71" rx="5.04" ry="7.38" transform="rotate(34.59 808.49 78.71)"/><ellipse cx="837.26" cy="80.01" rx="3.08" ry="4.51" transform="rotate(-29.41 837.26 80.01)"/><path d="M804.72 148.85L798.17 160.74" stroke="#000" stroke-width="9" stroke-linecap="round" fill="none"/><path d="M834.68 150.21L840.13 162.63" stroke="#000" stroke-width="9" stroke-linecap="round" fill="none"/></g></g>
<g filter="url(#rag)"><ellipse cx="820.6" cy="118.8" rx="7.67" ry="6.22" transform="rotate(0 820.6 118.8)" fill="#a80c08" filter="url(#spk)"/><ellipse cx="826.4" cy="110.4" rx="4.19" ry="7.67" transform="rotate(0 826.4 110.4)" fill="#a80c08" filter="url(#spk)"/><ellipse cx="816" cy="92.4" rx="7.67" ry="5.06" transform="rotate(0 816 92.4)" fill="#a80c08" filter="url(#spk)"/><ellipse cx="816" cy="118" rx="5.93" ry="4.77" transform="rotate(0 816 118)" fill="#a80c08" filter="url(#spk)"/><ellipse cx="821" cy="119" rx="8" ry="6.5" transform="rotate(0 821 119)" fill="#a80c08" filter="url(#spk)"/><ellipse cx="820.6" cy="118.8" rx="4.6" ry="3.6" transform="rotate(0 820.6 118.8)" fill="url(#hotY)"/><ellipse cx="826.4" cy="110.4" rx="2.2" ry="4.6" transform="rotate(0 826.4 110.4)" fill="url(#hotO)"/><ellipse cx="816" cy="92.4" rx="4.6" ry="2.8" transform="rotate(0 816 92.4)" fill="url(#hotY)"/><ellipse cx="840" cy="96.4" rx="1.8" ry="2.6" transform="rotate(0 840 96.4)" fill="url(#hotO)"/><ellipse cx="816" cy="118" rx="3.4" ry="2.6" transform="rotate(0 816 118)" fill="url(#hotR)"/><ellipse cx="830" cy="148" rx="6" ry="8" transform="rotate(0 830 148)" fill="#a80c08" filter="url(#spk)"/></g>
<circle cx="821.3" cy="118" r="15.3" fill="none" stroke="#fff" stroke-width="1.8" stroke-dasharray="4.4 1.9"/>
</g>
<clipPath id="cc03"><rect x="864.5" y="52.0" width="77.5" height="145.0"/></clipPath>
<rect x="864.5" y="52.0" width="77.5" height="145.0" fill="#313131"/>
<rect x="864.5" y="52.0" width="77.5" height="145.0" filter="url(#bgn)"/>
<g clip-path="url(#cc03)">
<g opacity="0.96"><g filter="url(#soft)"><path d="M877.55 162.86L867 168.5" stroke="#bdbdbd" stroke-width="4.2" stroke-linecap="round" fill="none"/><ellipse cx="865.73" cy="169.7" rx="4.6" ry="2.6" fill="#cacaca"/><path d="M919.54 163.42L932 167.5" stroke="#bdbdbd" stroke-width="4.2" stroke-linecap="round" fill="none"/><ellipse cx="933.49" cy="168.7" rx="4.6" ry="2.6" fill="#cacaca"/><path d="M896.12 163.38C896.51 177.38 895.2 183 895.5 198H898.5C898.6 183 900.72 177.38 900.91 163.38Z" fill="#c6c6c6"/></g>
<g filter="url(#mshade)"><path d="M897.4 54.47C895.73 54.44 895.84 56.68 894.95 58.35C894.06 60.02 892.96 62.34 892.07 64.48C891.17 66.61 890.24 68.93 889.58 71.16C888.91 73.39 888.28 75.63 888.09 77.86C887.89 80.1 888.49 82.54 888.4 84.59C888.3 86.64 888.12 88.13 887.52 90.18C886.93 92.23 885.63 94.26 884.83 96.86C884.03 99.47 883.42 102.45 882.71 105.8C882 109.15 881.18 112.87 880.56 116.97C879.94 121.07 879.57 126.29 878.98 130.39C878.39 134.49 877.51 138.21 877.03 141.57C876.55 144.92 876.09 148.09 876.11 150.52C876.13 152.94 875.98 154.34 877.14 156.13C878.3 157.92 880.67 159.73 883.07 161.25C885.47 162.78 889.36 164.42 891.52 165.29C893.67 166.16 893.67 166.44 896 166.47C898.33 166.5 902.5 166.27 905.51 165.47C908.53 164.67 911.63 163.13 914.07 161.67C916.5 160.21 918.93 158.47 920.13 156.71C921.34 154.95 921.23 153.55 921.31 151.12C921.39 148.7 921.02 145.52 920.63 142.15C920.24 138.79 919.46 135.04 918.98 130.93C918.5 126.81 918.27 121.58 917.76 117.47C917.25 113.35 916.53 109.61 915.91 106.24C915.29 102.87 914.76 99.88 914.03 97.26C913.3 94.63 912.06 92.56 911.52 90.5C910.98 88.44 910.83 86.94 910.79 84.89C910.75 82.84 911.42 80.42 911.28 78.18C911.15 75.93 910.58 73.69 909.97 71.44C909.37 69.19 908.5 66.84 907.66 64.68C906.83 62.53 906.66 60.19 904.95 58.49C903.24 56.78 899.07 54.49 897.4 54.47Z"/><ellipse cx="885.26" cy="79.51" rx="3.08" ry="4.51" transform="rotate(32.77 885.26 79.51)"/><ellipse cx="914.06" cy="79.89" rx="3.08" ry="4.51" transform="rotate(-31.23 914.06 79.89)"/><path d="M883.71 150.62L877.55 162.86" stroke="#000" stroke-width="9" stroke-linecap="round" fill="none"/><path d="M913.71 151.02L919.54 163.42" stroke="#000" stroke-width="9" stroke-linecap="round" fill="none"/></g></g>
<g filter="url(#rag)"><ellipse cx="901" cy="108.4" rx="5.93" ry="7.67" transform="rotate(0 901 108.4)" fill="#a80c08" filter="url(#spk)"/><ellipse cx="894.4" cy="118.2" rx="5.35" ry="5.35" transform="rotate(0 894.4 118.2)" fill="#a80c08" filter="url(#spk)"/><ellipse cx="888.2" cy="81.8" rx="5.93" ry="3.17" transform="rotate(0 888.2 81.8)" fill="#a80c08" filter="url(#spk)"/><ellipse cx="917" cy="82" rx="5.93" ry="3.32" transform="rotate(0 917 82)" fill="#a80c08" filter="url(#spk)"/><ellipse cx="901" cy="108.4" rx="3.4" ry="4.6" transform="rotate(0 901 108.4)" fill="url(#hotR)"/><ellipse cx="894.4" cy="118.2" rx="3" ry="3" transform="rotate(0 894.4 118.2)" fill="url(#hotY)"/><ellipse cx="888.2" cy="81.8" rx="3.4" ry="1.5" transform="rotate(0 888.2 81.8)" fill="url(#hotR)"/><ellipse cx="917" cy="82" rx="3.4" ry="1.6" transform="rotate(0 917 82)" fill="url(#hotO)"/><ellipse cx="918" cy="155.5" rx="1.6" ry="1.8" transform="rotate(0 918 155.5)" fill="url(#hotY)"/><ellipse cx="898.5" cy="157" rx="2.6" ry="4" transform="rotate(0 898.5 157)" fill="#a80c08" filter="url(#spk)"/><ellipse cx="896" cy="90" rx="6" ry="5" transform="rotate(0 896 90)" fill="#a80c08" filter="url(#spk)"/></g>
<circle cx="898.8" cy="118" r="15.3" fill="none" stroke="#fff" stroke-width="1.8" stroke-dasharray="4.4 1.9"/>
</g>
<clipPath id="cc04"><rect x="944.5" y="52.0" width="77.5" height="145.0"/></clipPath>
<rect x="944.5" y="52.0" width="77.5" height="145.0" fill="#313131"/>
<rect x="944.5" y="52.0" width="77.5" height="145.0" filter="url(#bgn)"/>
<g clip-path="url(#cc04)">
<g opacity="0.96"><g filter="url(#soft)"><path d="M971.46 164.05L955 173.5" stroke="#bdbdbd" stroke-width="4.2" stroke-linecap="round" fill="none"/><ellipse cx="953.02" cy="174.7" rx="4.6" ry="2.6" fill="#cacaca"/><path d="M1010.09 165.18L1010.5 172" stroke="#bdbdbd" stroke-width="4.2" stroke-linecap="round" fill="none"/><ellipse cx="1010.55" cy="173.2" rx="4.6" ry="2.6" fill="#cacaca"/><path d="M988.19 164.87C988.59 178.87 984.2 183 984.5 198H987.5C987.6 183 992.79 178.87 992.99 164.87Z" fill="#c6c6c6"/></g>
<g filter="url(#mshade)"><path d="M991.41 54.93C989.88 54.89 990.05 57.15 989.29 58.83C988.53 60.5 987.6 62.83 986.85 64.98C986.1 67.12 985.32 69.45 984.77 71.7C984.23 73.95 983.71 76.19 983.59 78.45C983.46 80.71 984.06 83.18 984.01 85.25C983.96 87.32 983.81 88.83 983.29 90.88C982.76 92.94 981.59 94.98 980.86 97.6C980.12 100.22 979.57 103.22 978.87 106.59C978.18 109.96 977.37 113.71 976.68 117.83C976 121.96 975.46 127.22 974.74 131.35C974.02 135.47 973 139.21 972.37 142.59C971.74 145.96 971.11 149.15 970.97 151.6C970.84 154.04 970.6 155.45 971.55 157.27C972.49 159.09 974.56 160.94 976.66 162.51C978.76 164.08 982.23 165.78 984.15 166.68C986.08 167.59 986.06 167.87 988.2 167.93C990.35 168 994.2 167.83 997.03 167.06C999.86 166.29 1002.82 164.78 1005.17 163.34C1007.51 161.9 1009.86 160.18 1011.09 158.42C1012.32 156.67 1012.31 155.25 1012.54 152.81C1012.77 150.37 1012.63 147.16 1012.47 143.76C1012.3 140.36 1011.79 136.58 1011.53 132.42C1011.26 128.27 1011.25 122.99 1010.89 118.83C1010.54 114.68 1009.93 110.89 1009.4 107.48C1008.87 104.07 1008.38 101.04 1007.71 98.38C1007.04 95.72 1005.87 93.62 1005.36 91.53C1004.84 89.44 1004.68 87.93 1004.61 85.85C1004.54 83.78 1005.1 81.34 1004.92 79.07C1004.74 76.81 1004.15 74.53 1003.53 72.25C1002.91 69.97 1002.04 67.59 1001.2 65.39C1000.36 63.2 1000.12 60.84 998.49 59.1C996.86 57.35 992.94 54.97 991.41 54.93Z"/><ellipse cx="981.03" cy="80.07" rx="7.08" ry="10.37" transform="rotate(33.67 981.03 80.07)"/><ellipse cx="1007.51" cy="80.85" rx="7.08" ry="10.37" transform="rotate(-30.33 1007.51 80.85)"/><path d="M977.96 151.8L971.46 164.05" stroke="#000" stroke-width="9" stroke-linecap="round" fill="none"/><path d="M1005.55 152.61L1010.09 165.18" stroke="#000" stroke-width="9" stroke-linecap="round" fill="none"/></g></g>
<g filter="url(#rag)"><ellipse cx="990.8" cy="116.4" rx="14.92" ry="10.57" transform="rotate(-6 990.8 116.4)" fill="#a80c08" filter="url(#spk)"/><ellipse cx="1006" cy="121.2" rx="5.06" ry="7.67" transform="rotate(25 1006 121.2)" fill="#a80c08" filter="url(#spk)"/><ellipse cx="990.8" cy="116.4" rx="9.6" ry="6.6" transform="rotate(-6 990.8 116.4)" fill="url(#hotO)"/><ellipse cx="1006" cy="121.2" rx="2.8" ry="4.6" transform="rotate(25 1006 121.2)" fill="url(#hotR)"/></g>
<circle cx="993.8" cy="118" r="15.3" fill="none" stroke="#fff" stroke-width="1.8" stroke-dasharray="4.4 1.9"/>
</g>
<clipPath id="cc10"><rect x="624.5" y="199.0" width="77.5" height="145.0"/></clipPath>
<rect x="624.5" y="199.0" width="77.5" height="145.0" fill="#313131"/>
<rect x="624.5" y="199.0" width="77.5" height="145.0" filter="url(#bgn)"/>
<g clip-path="url(#cc10)">
<g opacity="0.88"><g filter="url(#soft)"><path d="M638.18 318.05L635 318.5" stroke="#bdbdbd" stroke-width="4.2" stroke-linecap="round" fill="none"/><ellipse cx="634.62" cy="319.7" rx="4.6" ry="2.6" fill="#cacaca"/><path d="M685.63 316.78L692 320" stroke="#bdbdbd" stroke-width="4.2" stroke-linecap="round" fill="none"/><ellipse cx="692.76" cy="321.2" rx="4.6" ry="2.6" fill="#cacaca"/><path d="M659.57 317.81C659.97 331.81 661.7 330 662 345H665C665.1 330 664.17 331.81 664.37 317.81Z" fill="#c6c6c6"/></g>
<g filter="url(#mshade)"><path d="M655.86 201.58C653.98 201.63 654.2 204.02 653.26 205.83C652.33 207.65 651.19 210.17 650.28 212.49C649.36 214.81 648.41 217.32 647.76 219.73C647.11 222.14 646.49 224.55 646.37 226.95C646.24 229.34 647.03 231.91 647.01 234.1C647 236.3 646.85 237.9 646.27 240.1C645.69 242.31 644.32 244.54 643.52 247.35C642.73 250.16 642.18 253.37 641.52 256.97C640.86 260.58 640.1 264.58 639.58 268.98C639.06 273.38 638.87 278.97 638.38 283.36C637.9 287.76 637.06 291.77 636.67 295.37C636.28 298.97 635.9 302.37 636.02 304.95C636.15 307.54 636.04 309.04 637.43 310.9C638.81 312.75 641.57 314.57 644.35 316.09C647.12 317.61 651.59 319.19 654.06 320.02C656.53 320.85 656.54 321.15 659.18 321.08C661.81 321.01 666.51 320.58 669.88 319.59C673.24 318.61 676.68 316.82 679.36 315.15C682.05 313.49 684.71 311.52 686 309.59C687.28 307.67 687.09 306.18 687.08 303.59C687.07 301 686.51 297.62 685.92 294.05C685.34 290.48 684.29 286.52 683.57 282.16C682.85 277.79 682.36 272.22 681.6 267.86C680.85 263.49 679.87 259.53 679.02 255.97C678.17 252.4 677.45 249.23 676.51 246.47C675.57 243.7 674.08 241.55 673.38 239.38C672.68 237.2 672.45 235.62 672.32 233.43C672.18 231.24 672.83 228.63 672.58 226.24C672.32 223.86 671.58 221.49 670.8 219.12C670.02 216.75 668.94 214.28 667.9 212.02C666.86 209.75 666.57 207.27 664.56 205.53C662.55 203.79 657.75 201.53 655.86 201.58Z"/><ellipse cx="643.25" cy="228.82" rx="2.52" ry="3.69" transform="rotate(30.47 643.25 228.82)"/><ellipse cx="675.79" cy="227.95" rx="2.8" ry="4.1" transform="rotate(-33.53 675.79 227.95)"/><path d="M647.53 244.85L639 230" stroke="#000" stroke-width="5.2" stroke-linecap="round" fill="none"/><circle cx="639" cy="230" r="3.1"/><path d="M672.38 244.19L676 232" stroke="#000" stroke-width="5.2" stroke-linecap="round" fill="none"/><circle cx="676" cy="232" r="3.1"/><path d="M644.61 304.72L638.18 318.05" stroke="#000" stroke-width="9" stroke-linecap="round" fill="none"/><path d="M678.5 303.82L685.63 316.78" stroke="#000" stroke-width="9" stroke-linecap="round" fill="none"/></g></g>
<g filter="url(#rag)"><ellipse cx="648.8" cy="227.6" rx="1.2" ry="2.6" transform="rotate(0 648.8 227.6)" fill="url(#hotO)"/><ellipse cx="669.6" cy="232" rx="1" ry="1.4" transform="rotate(0 669.6 232)" fill="url(#hotR)"/><ellipse cx="672" cy="249" rx="0.9" ry="1.2" transform="rotate(0 672 249)" fill="url(#hotR)"/></g>
<circle cx="660" cy="271.3" r="15.3" fill="none" stroke="#fff" stroke-width="1.8" stroke-dasharray="4.4 1.9"/>
</g>
<clipPath id="cc11"><rect x="704.5" y="199.0" width="77.5" height="145.0"/></clipPath>
<rect x="704.5" y="199.0" width="77.5" height="145.0" fill="#313131"/>
<rect x="704.5" y="199.0" width="77.5" height="145.0" filter="url(#bgn)"/>
<g clip-path="url(#cc11)">
<g opacity="0.88"><g filter="url(#soft)"><path d="M722.32 317.12L717.5 316" stroke="#bdbdbd" stroke-width="4.2" stroke-linecap="round" fill="none"/><ellipse cx="716.92" cy="317.2" rx="4.6" ry="2.6" fill="#cacaca"/><path d="M761.79 317.71L770 311.5" stroke="#bdbdbd" stroke-width="4.2" stroke-linecap="round" fill="none"/><ellipse cx="770.98" cy="312.7" rx="4.6" ry="2.6" fill="#cacaca"/><path d="M739.62 317.81C740.02 331.81 740.2 330 740.5 345H743.5C743.6 330 744.22 331.81 744.42 317.81Z" fill="#c6c6c6"/></g>
<g filter="url(#mshade)"><path d="M741.36 201.46C739.79 201.44 739.88 203.83 739.04 205.61C738.2 207.39 737.16 209.87 736.31 212.14C735.46 214.42 734.57 216.9 733.94 219.28C733.31 221.66 732.71 224.04 732.52 226.43C732.33 228.82 732.88 231.42 732.79 233.61C732.69 235.8 732.51 237.39 731.95 239.57C731.38 241.75 730.16 243.93 729.39 246.7C728.63 249.48 728.05 252.66 727.37 256.23C726.69 259.81 725.91 263.78 725.31 268.16C724.71 272.53 724.35 278.1 723.78 282.48C723.21 286.85 722.37 290.82 721.91 294.4C721.45 297.98 721 301.36 721.01 303.95C721.02 306.54 720.87 308.03 721.95 309.94C723.04 311.85 725.27 313.78 727.51 315.4C729.76 317.03 733.42 318.78 735.44 319.71C737.46 320.63 737.46 320.93 739.65 320.96C741.84 321 745.76 320.76 748.6 319.9C751.43 319.05 754.35 317.4 756.65 315.84C758.94 314.28 761.23 312.42 762.37 310.55C763.51 308.67 763.41 307.18 763.49 304.59C763.58 302 763.24 298.61 762.89 295.02C762.53 291.43 761.81 287.43 761.37 283.04C760.94 278.65 760.74 273.07 760.27 268.68C759.81 264.29 759.15 260.3 758.57 256.71C758 253.11 757.52 249.92 756.84 247.12C756.16 244.32 755 242.11 754.5 239.91C754 237.71 753.87 236.12 753.84 233.92C753.81 231.73 754.45 229.15 754.32 226.76C754.2 224.37 753.68 221.97 753.12 219.57C752.56 217.17 751.75 214.67 750.97 212.37C750.19 210.06 750.04 207.57 748.44 205.75C746.83 203.94 742.92 201.49 741.36 201.46Z"/><ellipse cx="729.86" cy="228.18" rx="6.47" ry="9.47" transform="rotate(32.86 729.86 228.18)"/><ellipse cx="756.93" cy="228.59" rx="6.47" ry="9.47" transform="rotate(-31.14 756.93 228.59)"/><path d="M728.15 304.06L722.32 317.12" stroke="#000" stroke-width="9" stroke-linecap="round" fill="none"/><path d="M756.35 304.48L761.79 317.71" stroke="#000" stroke-width="9" stroke-linecap="round" fill="none"/></g></g>
<g filter="url(#rag)"><ellipse cx="748" cy="298" rx="1.2" ry="1.2" transform="rotate(0 748 298)" fill="url(#hotY)"/></g>
<circle cx="743.3" cy="272" r="15.3" fill="none" stroke="#fff" stroke-width="1.8" stroke-dasharray="4.4 1.9"/>
</g>
<clipPath id="cc12"><rect x="784.5" y="199.0" width="77.5" height="145.0"/></clipPath>
<rect x="784.5" y="199.0" width="77.5" height="145.0" fill="#313131"/>
<rect x="784.5" y="199.0" width="77.5" height="145.0" filter="url(#bgn)"/>
<g clip-path="url(#cc12)">
<g opacity="0.88"><g filter="url(#soft)"><path d="M798.62 315.63L789.5 322" stroke="#bdbdbd" stroke-width="4.2" stroke-linecap="round" fill="none"/><ellipse cx="788.41" cy="323.2" rx="4.6" ry="2.6" fill="#cacaca"/><path d="M846.04 317.37L857.5 323.5" stroke="#bdbdbd" stroke-width="4.2" stroke-linecap="round" fill="none"/><ellipse cx="858.87" cy="324.7" rx="4.6" ry="2.6" fill="#cacaca"/><path d="M819.71 316.83C820.11 330.83 821.2 330 821.5 345H824.5C824.6 330 824.31 330.83 824.51 316.83Z" fill="#c6c6c6"/></g>
<g filter="url(#mshade)"><path d="M823.36 202.89C821.48 202.82 821.68 205.17 820.74 206.9C819.8 208.62 818.64 211.02 817.7 213.23C816.77 215.44 815.79 217.84 815.11 220.16C814.43 222.48 813.78 224.8 813.61 227.14C813.44 229.47 814.17 232.04 814.1 234.18C814.03 236.33 813.84 237.88 813.18 240.01C812.53 242.13 811.09 244.23 810.17 246.93C809.26 249.63 808.57 252.73 807.71 256.21C806.84 259.69 805.85 263.56 805 267.83C804.15 272.09 803.49 277.53 802.6 281.8C801.72 286.06 800.46 289.92 799.7 293.41C798.93 296.89 798.16 300.18 797.99 302.72C797.83 305.25 797.54 306.7 798.71 308.6C799.87 310.5 802.41 312.45 804.99 314.1C807.58 315.76 811.84 317.58 814.21 318.54C816.57 319.51 816.54 319.8 819.18 319.9C821.81 319.99 826.54 319.87 830.02 319.12C833.49 318.37 837.12 316.85 840 315.39C842.87 313.93 845.76 312.18 847.26 310.38C848.77 308.58 848.76 307.12 849.04 304.59C849.31 302.06 849.14 298.74 848.93 295.22C848.72 291.69 848.09 287.76 847.77 283.46C847.45 279.15 847.43 273.68 847 269.37C846.57 265.06 845.84 261.13 845.2 257.59C844.55 254.05 843.97 250.9 843.15 248.14C842.33 245.38 840.91 243.18 840.29 241C839.66 238.83 839.48 237.26 839.4 235.11C839.32 232.96 840.02 230.45 839.81 228.1C839.6 225.75 838.9 223.38 838.15 221.01C837.4 218.64 836.34 216.16 835.32 213.88C834.3 211.59 834.02 209.14 832.03 207.31C830.04 205.48 825.25 202.96 823.36 202.89Z"/><ellipse cx="810.47" cy="228.78" rx="6.47" ry="9.47" transform="rotate(34.1 810.47 228.78)"/><ellipse cx="842.99" cy="229.97" rx="6.17" ry="9.04" transform="rotate(-29.9 842.99 229.97)"/><path d="M814.27 244.73L805 239" stroke="#000" stroke-width="5.2" stroke-linecap="round" fill="none"/><circle cx="805" cy="239" r="3.1"/><path d="M806.58 303.03L798.62 315.63" stroke="#000" stroke-width="9" stroke-linecap="round" fill="none"/><path d="M840.45 304.28L846.04 317.37" stroke="#000" stroke-width="9" stroke-linecap="round" fill="none"/></g></g>
<g filter="url(#rag)"><ellipse cx="830.6" cy="295.8" rx="4.77" ry="10.57" transform="rotate(8 830.6 295.8)" fill="#a80c08" filter="url(#spk)"/><ellipse cx="830.6" cy="295.8" rx="2.6" ry="6.6" transform="rotate(8 830.6 295.8)" fill="url(#hotY)"/><ellipse cx="836.5" cy="293" rx="1.5" ry="1.5" transform="rotate(0 836.5 293)" fill="url(#hotR)"/><ellipse cx="841" cy="229" rx="1" ry="2.4" transform="rotate(0 841 229)" fill="url(#hotR)"/><ellipse cx="815" cy="243" rx="1.5" ry="2.5" transform="rotate(0 815 243)" fill="#a80c08" filter="url(#spk)"/></g>
<circle cx="825.8" cy="272.5" r="15.3" fill="none" stroke="#fff" stroke-width="1.8" stroke-dasharray="4.4 1.9"/>
</g>
<clipPath id="cc13"><rect x="864.5" y="199.0" width="77.5" height="145.0"/></clipPath>
<rect x="864.5" y="199.0" width="77.5" height="145.0" fill="#313131"/>
<rect x="864.5" y="199.0" width="77.5" height="145.0" filter="url(#bgn)"/>
<g clip-path="url(#cc13)">
<g opacity="0.88"><g filter="url(#soft)"><path d="M881.74 318L872.6 323.5" stroke="#bdbdbd" stroke-width="4.2" stroke-linecap="round" fill="none"/><ellipse cx="871.5" cy="324.7" rx="4.6" ry="2.6" fill="#cacaca"/><path d="M923.61 314.79L931.6 322.3" stroke="#bdbdbd" stroke-width="4.2" stroke-linecap="round" fill="none"/><ellipse cx="932.56" cy="323.5" rx="4.6" ry="2.6" fill="#cacaca"/><path d="M900.16 316.8C900.56 330.8 900.7 330 901 345H904C904.1 330 904.76 330.8 904.96 316.8Z" fill="#c6c6c6"/></g>
<g filter="url(#mshade)"><path d="M890.81 201.2C889.15 201.33 889.76 203.67 889.25 205.51C888.75 207.34 888.19 209.88 887.77 212.2C887.35 214.53 886.94 217.05 886.75 219.46C886.57 221.87 886.41 224.28 886.66 226.65C886.91 229.03 887.97 231.54 888.26 233.71C888.54 235.88 888.62 237.47 888.36 239.69C888.11 241.9 887.16 244.17 886.72 247C886.29 249.82 886.1 253.03 885.75 256.64C885.4 260.26 884.97 264.29 884.62 268.7C884.27 273.12 884.13 278.71 883.66 283.14C883.19 287.56 882.28 291.62 881.79 295.25C881.3 298.88 880.75 302.31 880.72 304.91C880.68 307.5 880.47 309.02 881.57 310.83C882.67 312.64 884.97 314.36 887.31 315.78C889.64 317.19 893.46 318.6 895.58 319.33C897.7 320.07 897.68 320.37 900.01 320.19C902.33 320.01 906.5 319.39 909.54 318.26C912.57 317.14 915.73 315.2 918.22 313.41C920.7 311.63 923.18 309.54 924.45 307.55C925.71 305.56 925.65 304.07 925.79 301.46C925.92 298.86 925.64 295.49 925.27 291.93C924.89 288.36 924.14 284.43 923.55 280.09C922.95 275.74 922.49 270.19 921.71 265.86C920.93 261.54 919.84 257.63 918.86 254.11C917.88 250.6 916.93 247.48 915.84 244.77C914.74 242.06 913.17 239.99 912.29 237.86C911.42 235.73 911.01 234.17 910.59 232C910.18 229.84 910.38 227.23 909.79 224.88C909.21 222.53 908.17 220.22 907.09 217.91C906.02 215.6 904.63 213.21 903.32 211.01C902.01 208.82 901.31 206.38 899.23 204.74C897.14 203.11 892.47 201.07 890.81 201.2Z"/><ellipse cx="912.89" cy="226.44" rx="5.32" ry="7.79" transform="rotate(-36.37 912.89 226.44)"/><path d="M890.01 244.35L883 247" stroke="#000" stroke-width="5.2" stroke-linecap="round" fill="none"/><circle cx="883" cy="247" r="3.1"/><path d="M888.29 304.33L881.74 318" stroke="#000" stroke-width="9" stroke-linecap="round" fill="none"/><path d="M918.21 302.04L923.61 314.79" stroke="#000" stroke-width="9" stroke-linecap="round" fill="none"/></g></g>
<g filter="url(#rag)"><ellipse cx="909.2" cy="296.6" rx="4.48" ry="9.12" transform="rotate(-12 909.2 296.6)" fill="#a80c08" filter="url(#spk)"/><ellipse cx="912.6" cy="225" rx="2.59" ry="5.93" transform="rotate(0 912.6 225)" fill="#a80c08" filter="url(#spk)"/><ellipse cx="909.2" cy="296.6" rx="2.4" ry="5.6" transform="rotate(-12 909.2 296.6)" fill="url(#hotR)"/><ellipse cx="910.6" cy="301" rx="1.2" ry="1.6" transform="rotate(0 910.6 301)" fill="url(#hotY)"/><ellipse cx="912.6" cy="225" rx="1.1" ry="3.4" transform="rotate(0 912.6 225)" fill="url(#hotO)"/><ellipse cx="916" cy="293" rx="1.2" ry="1.6" transform="rotate(0 916 293)" fill="url(#hotR)"/></g>
<circle cx="903.4" cy="272.5" r="15.3" fill="none" stroke="#fff" stroke-width="1.8" stroke-dasharray="4.4 1.9"/>
</g>
<clipPath id="cc14"><rect x="944.5" y="199.0" width="77.5" height="145.0"/></clipPath>
<rect x="944.5" y="199.0" width="77.5" height="145.0" fill="#313131"/>
<rect x="944.5" y="199.0" width="77.5" height="145.0" filter="url(#bgn)"/>
<g clip-path="url(#cc14)">
<g opacity="0.88"><g filter="url(#soft)"><path d="M960.73 317.52L958 327" stroke="#bdbdbd" stroke-width="4.2" stroke-linecap="round" fill="none"/><ellipse cx="957.67" cy="328.2" rx="4.6" ry="2.6" fill="#cacaca"/><path d="M1003.99 317.3L1011.5 328.5" stroke="#bdbdbd" stroke-width="4.2" stroke-linecap="round" fill="none"/><ellipse cx="1012.4" cy="329.7" rx="4.6" ry="2.6" fill="#cacaca"/><path d="M979.72 317.8C980.12 331.8 979.7 330 980 345H983C983.1 330 984.32 331.8 984.52 317.8Z" fill="#c6c6c6"/></g>
<g filter="url(#mshade)"><path d="M978.72 201.51C977.01 201.52 977.41 203.91 976.71 205.71C976.01 207.5 975.19 210 974.54 212.29C973.89 214.58 973.22 217.08 972.8 219.47C972.38 221.86 971.99 224.25 972.03 226.64C972.07 229.03 972.93 231.62 973.03 233.81C973.13 236 973.07 237.59 972.61 239.79C972.16 241.98 970.99 244.18 970.31 246.97C969.64 249.76 969.19 252.95 968.55 256.54C967.92 260.12 967.17 264.11 966.51 268.5C965.85 272.88 965.35 278.46 964.59 282.85C963.83 287.23 962.67 291.22 961.97 294.81C961.26 298.4 960.52 301.79 960.34 304.38C960.17 306.97 959.88 308.46 960.92 310.35C961.96 312.24 964.24 314.12 966.57 315.7C968.9 317.28 972.77 318.96 974.91 319.84C977.05 320.73 977.02 321.02 979.43 321.01C981.83 321 986.15 320.68 989.33 319.77C992.51 318.86 995.86 317.15 998.5 315.54C1001.15 313.93 1003.81 312.03 1005.21 310.13C1006.61 308.23 1006.62 306.74 1006.9 304.14C1007.18 301.55 1007.06 298.17 1006.87 294.58C1006.69 291 1006.13 287.02 1005.79 282.64C1005.45 278.26 1005.33 272.68 1004.83 268.3C1004.32 263.92 1003.49 259.95 1002.75 256.36C1002.01 252.78 1001.29 249.6 1000.39 246.82C999.49 244.03 998.05 241.85 997.33 239.66C996.62 237.47 996.34 235.88 996.1 233.69C995.87 231.5 996.31 228.91 995.93 226.52C995.55 224.13 994.7 221.75 993.81 219.36C992.93 216.98 991.74 214.49 990.61 212.21C989.47 209.92 988.99 207.44 987.01 205.65C985.03 203.87 980.44 201.5 978.72 201.51Z"/><ellipse cx="969.3" cy="228.45" rx="5.04" ry="7.38" transform="rotate(31.71 969.3 228.45)"/><ellipse cx="998.97" cy="228.3" rx="5.32" ry="7.79" transform="rotate(-32.29 998.97 228.3)"/><path d="M973.91 244.56L965 235" stroke="#000" stroke-width="5.2" stroke-linecap="round" fill="none"/><circle cx="965" cy="235" r="3.1"/><path d="M968.17 304.34L960.73 317.52" stroke="#000" stroke-width="9" stroke-linecap="round" fill="none"/><path d="M999.07 304.18L1003.99 317.3" stroke="#000" stroke-width="9" stroke-linecap="round" fill="none"/></g></g>
<g filter="url(#rag)"><ellipse cx="991" cy="287.5" rx="16.23" ry="8.54" transform="rotate(-10 991 287.5)" fill="#a80c08" filter="url(#spk)"/><ellipse cx="996.5" cy="284.5" rx="9.7" ry="7.09" transform="rotate(0 996.5 284.5)" fill="#a80c08" filter="url(#spk)"/><ellipse cx="990.6" cy="290.6" rx="4.77" ry="6.51" transform="rotate(-20 990.6 290.6)" fill="#a80c08" filter="url(#spk)"/><ellipse cx="974" cy="236" rx="4.19" ry="15.5" transform="rotate(4 974 236)" fill="#a80c08" filter="url(#spk)"/><ellipse cx="995.4" cy="228.6" rx="4.33" ry="13.47" transform="rotate(0 995.4 228.6)" fill="#a80c08" filter="url(#spk)"/><ellipse cx="995.4" cy="225" rx="2.59" ry="5.93" transform="rotate(0 995.4 225)" fill="#a80c08" filter="url(#spk)"/><ellipse cx="994" cy="251.6" rx="5.06" ry="9.12" transform="rotate(0 994 251.6)" fill="#a80c08" filter="url(#spk)"/><ellipse cx="991.8" cy="287" rx="11" ry="6.5" transform="rotate(0 991.8 287)" fill="#a80c08" filter="url(#spk)"/><ellipse cx="991" cy="287.5" rx="10.5" ry="5.2" transform="rotate(-10 991 287.5)" fill="url(#hotR)"/><ellipse cx="996.5" cy="284.5" rx="6" ry="4.2" transform="rotate(0 996.5 284.5)" fill="url(#hotO)"/><ellipse cx="990.6" cy="290.6" rx="2.6" ry="3.8" transform="rotate(-20 990.6 290.6)" fill="url(#hotY)"/><ellipse cx="974" cy="236" rx="2.2" ry="10" transform="rotate(4 974 236)" fill="url(#hotR)"/><ellipse cx="995.4" cy="228.6" rx="2.3" ry="8.6" transform="rotate(0 995.4 228.6)" fill="url(#hotO)"/><ellipse cx="995.4" cy="225" rx="1.1" ry="3.4" transform="rotate(0 995.4 225)" fill="url(#hotY)"/><ellipse cx="994" cy="251.6" rx="2.8" ry="5.6" transform="rotate(0 994 251.6)" fill="url(#hotR)"/><ellipse cx="997.8" cy="307.3" rx="4.6" ry="3.6" transform="rotate(0 997.8 307.3)" fill="#a80c08" filter="url(#spk)"/><ellipse cx="972" cy="288" rx="4.5" ry="3" transform="rotate(0 972 288)" fill="#a80c08" filter="url(#spk)"/><ellipse cx="974" cy="300" rx="3" ry="5" transform="rotate(0 974 300)" fill="#a80c08" filter="url(#spk)"/></g>
<circle cx="985.6" cy="272" r="15.3" fill="none" stroke="#fff" stroke-width="1.8" stroke-dasharray="4.4 1.9"/>
</g>
<clipPath id="cc20"><rect x="624.5" y="346.4" width="77.5" height="145.0"/></clipPath>
<rect x="624.5" y="346.4" width="77.5" height="145.0" fill="#313131"/>
<rect x="624.5" y="346.4" width="77.5" height="145.0" filter="url(#bgn)"/>
<g clip-path="url(#cc20)">
<g opacity="0.8"><g filter="url(#soft)"><path d="M644.79 459.5L631 462.5" stroke="#bdbdbd" stroke-width="4.2" stroke-linecap="round" fill="none"/><ellipse cx="629.35" cy="463.7" rx="4.6" ry="2.6" fill="#cacaca"/><path d="M686.63 455.84L692.5 455" stroke="#bdbdbd" stroke-width="4.2" stroke-linecap="round" fill="none"/><ellipse cx="693.2" cy="456.2" rx="4.6" ry="2.6" fill="#cacaca"/><path d="M663.5 457.89C663.9 471.89 665.2 477.4 665.5 492.4H668.5C668.6 477.4 668.1 471.89 668.3 457.89Z" fill="#c6c6c6"/></g>
<g filter="url(#mshade)"><path d="M653.71 350.23C652.05 350.37 652.38 352.58 651.66 354.32C650.94 356.06 650.08 358.47 649.4 360.67C648.73 362.87 648.03 365.26 647.59 367.54C647.16 369.81 646.75 372.09 646.78 374.32C646.81 376.55 647.65 378.9 647.76 380.95C647.87 382.99 647.84 384.48 647.45 386.56C647.06 388.65 645.98 390.79 645.44 393.45C644.9 396.11 644.6 399.12 644.23 402.51C643.85 405.89 643.41 409.66 643.2 413.78C642.99 417.9 643.15 423.1 642.97 427.22C642.8 431.34 642.29 435.11 642.15 438.48C642.01 441.85 641.87 445.03 642.13 447.43C642.39 449.83 642.38 451.23 643.71 452.88C645.04 454.54 647.59 456.08 650.12 457.35C652.66 458.62 656.7 459.86 658.93 460.5C661.16 461.14 661.19 461.42 663.51 461.22C665.83 461.01 669.96 460.37 672.88 459.28C675.79 458.19 678.73 456.35 681 454.66C683.28 452.97 685.52 451 686.55 449.14C687.57 447.28 687.32 445.9 687.16 443.49C687 441.08 686.31 437.97 685.58 434.68C684.86 431.39 683.71 427.76 682.82 423.74C681.93 419.72 681.18 414.56 680.26 410.54C679.34 406.52 678.25 402.89 677.3 399.61C676.34 396.34 675.52 393.43 674.53 390.91C673.54 388.39 672.1 386.46 671.36 384.48C670.62 382.49 670.32 381.02 670.08 378.99C669.83 376.97 670.25 374.51 669.89 372.3C669.53 370.09 668.74 367.93 667.92 365.76C667.09 363.6 665.99 361.36 664.94 359.31C663.89 357.26 663.49 354.96 661.62 353.45C659.75 351.94 655.37 350.08 653.71 350.23Z"/><ellipse cx="644.14" cy="376.23" rx="6.47" ry="9.47" transform="rotate(27.01 644.14 376.23)"/><ellipse cx="672.83" cy="373.72" rx="6.47" ry="9.47" transform="rotate(-36.99 672.83 373.72)"/><path d="M648.83 390.92L640 380" stroke="#000" stroke-width="5.2" stroke-linecap="round" fill="none"/><circle cx="640" cy="380" r="3.1"/><path d="M670.75 389L676 385" stroke="#000" stroke-width="5.2" stroke-linecap="round" fill="none"/><circle cx="676" cy="385" r="3.1"/><path d="M649.7 446.77L644.79 459.5" stroke="#000" stroke-width="9" stroke-linecap="round" fill="none"/><path d="M679.59 444.15L686.63 455.84" stroke="#000" stroke-width="9" stroke-linecap="round" fill="none"/></g></g>
<g filter="url(#rag)"><ellipse cx="663.3" cy="430.8" rx="0.9" ry="1.7" transform="rotate(0 663.3 430.8)" fill="url(#hotY)"/></g>
<circle cx="663.3" cy="419.3" r="15.3" fill="none" stroke="#fff" stroke-width="1.8" stroke-dasharray="4.4 1.9"/>
</g>
<clipPath id="cc21"><rect x="704.5" y="346.4" width="77.5" height="145.0"/></clipPath>
<rect x="704.5" y="346.4" width="77.5" height="145.0" fill="#313131"/>
<rect x="704.5" y="346.4" width="77.5" height="145.0" filter="url(#bgn)"/>
<g clip-path="url(#cc21)">
<g opacity="0.8"><g filter="url(#soft)"><path d="M722.17 461.57L710 467.5" stroke="#bdbdbd" stroke-width="4.2" stroke-linecap="round" fill="none"/><ellipse cx="708.54" cy="468.7" rx="4.6" ry="2.6" fill="#cacaca"/><path d="M768.32 459.55L757.5 476" stroke="#bdbdbd" stroke-width="4.2" stroke-linecap="round" fill="none"/><ellipse cx="756.2" cy="477.2" rx="4.6" ry="2.6" fill="#cacaca"/><path d="M742.68 460.85C743.08 474.85 743.7 477.4 744 492.4H747C747.1 477.4 747.28 474.85 747.48 460.85Z" fill="#c6c6c6"/></g>
<g filter="url(#mshade)"><path d="M737.14 350.13C735.31 350.21 735.82 352.47 735.14 354.21C734.46 355.95 733.66 358.37 733.05 360.58C732.43 362.8 731.81 365.21 731.44 367.51C731.08 369.81 730.75 372.11 730.87 374.39C731 376.67 732.01 379.1 732.19 381.18C732.37 383.27 732.36 384.79 731.95 386.9C731.55 389.01 730.38 391.16 729.76 393.85C729.13 396.55 728.76 399.61 728.22 403.06C727.67 406.51 727.02 410.34 726.48 414.56C725.94 418.77 725.61 424.11 724.96 428.33C724.32 432.54 723.24 436.4 722.62 439.85C722 443.31 721.34 446.57 721.25 449.05C721.16 451.53 720.91 452.97 722.09 454.72C723.27 456.48 725.78 458.18 728.33 459.59C730.88 461 735.07 462.44 737.39 463.19C739.71 463.95 739.69 464.23 742.25 464.12C744.82 464.01 749.42 463.52 752.77 462.52C756.13 461.51 759.64 459.74 762.4 458.1C765.16 456.45 767.93 454.52 769.35 452.65C770.77 450.78 770.72 449.36 770.92 446.87C771.12 444.39 770.86 441.16 770.53 437.75C770.2 434.34 769.45 430.57 768.92 426.4C768.39 422.24 768.06 416.92 767.36 412.76C766.66 408.61 765.62 404.84 764.7 401.46C763.78 398.07 762.91 395.06 761.84 392.45C760.78 389.83 759.17 387.8 758.33 385.75C757.49 383.69 757.13 382.18 756.8 380.1C756.48 378.02 756.86 375.53 756.37 373.27C755.88 371.01 754.89 368.76 753.86 366.52C752.83 364.29 751.48 361.97 750.19 359.83C748.9 357.7 748.3 355.35 746.13 353.73C743.96 352.11 738.97 350.04 737.14 350.13Z"/><ellipse cx="759.67" cy="374.84" rx="5.6" ry="8.2" transform="rotate(-34.51 759.67 374.84)"/><path d="M733.51 391.4L720 383.5" stroke="#000" stroke-width="5.2" stroke-linecap="round" fill="none"/><circle cx="720" cy="383.5" r="3.1"/><path d="M729.6 448.68L722.17 461.57" stroke="#000" stroke-width="9" stroke-linecap="round" fill="none"/><path d="M762.57 447.24L768.32 459.55" stroke="#000" stroke-width="9" stroke-linecap="round" fill="none"/></g></g>
<g filter="url(#rag)"><ellipse cx="755.5" cy="373" rx="3.46" ry="7.67" transform="rotate(-10 755.5 373)" fill="#a80c08" filter="url(#spk)"/><ellipse cx="758" cy="402" rx="4.77" ry="6.51" transform="rotate(20 758 402)" fill="#a80c08" filter="url(#spk)"/><ellipse cx="755.5" cy="373" rx="1.7" ry="4.6" transform="rotate(-10 755.5 373)" fill="url(#hotO)"/><ellipse cx="758" cy="402" rx="2.6" ry="3.8" transform="rotate(20 758 402)" fill="url(#hotY)"/><ellipse cx="747" cy="440.4" rx="0.8" ry="1" transform="rotate(0 747 440.4)" fill="url(#hotR)"/></g>
<circle cx="747" cy="419.5" r="15.3" fill="none" stroke="#fff" stroke-width="1.8" stroke-dasharray="4.4 1.9"/>
</g>
<clipPath id="cc22"><rect x="784.5" y="346.4" width="77.5" height="145.0"/></clipPath>
<rect x="784.5" y="346.4" width="77.5" height="145.0" fill="#313131"/>
<rect x="784.5" y="346.4" width="77.5" height="145.0" filter="url(#bgn)"/>
<g clip-path="url(#cc22)">
<g opacity="0.8"><g filter="url(#soft)"><path d="M801.99 459.67L808.7 465.5" stroke="#bdbdbd" stroke-width="4.2" stroke-linecap="round" fill="none"/><ellipse cx="809.51" cy="466.7" rx="4.6" ry="2.6" fill="#cacaca"/><path d="M846.47 461.47L846.5 460.5" stroke="#bdbdbd" stroke-width="4.2" stroke-linecap="round" fill="none"/><ellipse cx="846.5" cy="461.7" rx="4.6" ry="2.6" fill="#cacaca"/><path d="M821.94 460.86C822.34 474.86 822.6 477.4 822.9 492.4H825.9C826 477.4 826.54 474.86 826.74 460.86Z" fill="#c6c6c6"/></g>
<g filter="url(#mshade)"><path d="M826.25 349.89C824.48 349.82 824.32 352.09 823.18 353.76C822.04 355.43 820.6 357.75 819.41 359.89C818.21 362.03 816.96 364.36 816.01 366.6C815.07 368.85 814.16 371.1 813.73 373.36C813.3 375.63 813.71 378.12 813.43 380.2C813.15 382.28 812.83 383.79 812.04 385.86C811.26 387.92 809.73 389.95 808.73 392.57C807.73 395.2 806.91 398.21 806.04 401.6C805.17 404.99 804.18 408.76 803.5 412.91C802.81 417.07 802.46 422.39 801.91 426.55C801.37 430.72 800.6 434.49 800.23 437.9C799.86 441.31 799.56 444.54 799.71 447.02C799.86 449.5 799.79 450.92 801.13 452.78C802.46 454.65 805.09 456.56 807.73 458.19C810.36 459.82 814.59 461.61 816.93 462.56C819.27 463.51 819.28 463.79 821.75 463.89C824.22 463.99 828.62 463.88 831.76 463.15C834.89 462.43 838.08 460.94 840.56 459.51C843.05 458.09 845.5 456.38 846.67 454.62C847.84 452.86 847.63 451.43 847.58 448.95C847.54 446.47 846.96 443.21 846.41 439.77C845.86 436.32 844.87 432.47 844.28 428.26C843.7 424.05 843.41 418.71 842.9 414.5C842.38 410.3 841.74 406.47 841.21 403.02C840.67 399.57 840.28 396.51 839.66 393.82C839.04 391.13 837.88 388.99 837.46 386.88C837.05 384.77 837.01 383.25 837.16 381.16C837.3 379.07 838.23 376.64 838.31 374.35C838.38 372.07 838.02 369.78 837.62 367.48C837.23 365.18 836.57 362.77 835.93 360.56C835.29 358.34 835.39 355.97 833.77 354.19C832.16 352.41 828.01 349.96 826.25 349.89Z"/><ellipse cx="810.58" cy="374.95" rx="7.28" ry="10.66" transform="rotate(34.31 810.58 374.95)"/><path d="M836.02 391.39L845 390.4" stroke="#000" stroke-width="5.2" stroke-linecap="round" fill="none"/><circle cx="845" cy="390.4" r="3.1"/><path d="M807.76 447.34L801.99 459.67" stroke="#000" stroke-width="9" stroke-linecap="round" fill="none"/><path d="M839.53 448.62L846.47 461.47" stroke="#000" stroke-width="9" stroke-linecap="round" fill="none"/></g></g>
<g filter="url(#rag)"><ellipse cx="814.4" cy="402.4" rx="8.25" ry="5.35" transform="rotate(10 814.4 402.4)" fill="#a80c08" filter="url(#spk)"/><ellipse cx="814.6" cy="375.4" rx="3.32" ry="8.25" transform="rotate(5 814.6 375.4)" fill="#a80c08" filter="url(#spk)"/><ellipse cx="814.4" cy="402.4" rx="5" ry="3" transform="rotate(10 814.4 402.4)" fill="url(#hotY)"/><ellipse cx="814.6" cy="375.4" rx="1.6" ry="5" transform="rotate(5 814.6 375.4)" fill="url(#hotO)"/><ellipse cx="834.6" cy="386.5" rx="1" ry="2" transform="rotate(0 834.6 386.5)" fill="url(#hotR)"/><ellipse cx="837.8" cy="441.6" rx="1.6" ry="1.6" transform="rotate(0 837.8 441.6)" fill="url(#hotO)"/><ellipse cx="832" cy="431" rx="2.2" ry="1" transform="rotate(0 832 431)" fill="url(#hotR)"/></g>
<circle cx="823.1" cy="419.5" r="15.3" fill="none" stroke="#fff" stroke-width="1.8" stroke-dasharray="4.4 1.9"/>
</g>
<clipPath id="cc23"><rect x="864.5" y="346.4" width="77.5" height="145.0"/></clipPath>
<rect x="864.5" y="346.4" width="77.5" height="145.0" fill="#313131"/>
<rect x="864.5" y="346.4" width="77.5" height="145.0" filter="url(#bgn)"/>
<g clip-path="url(#cc23)">
<g opacity="0.8"><g filter="url(#soft)"><path d="M885.13 457.89L878 466" stroke="#bdbdbd" stroke-width="4.2" stroke-linecap="round" fill="none"/><ellipse cx="877.14" cy="467.2" rx="4.6" ry="2.6" fill="#cacaca"/><path d="M927.11 459.39L935 462" stroke="#bdbdbd" stroke-width="4.2" stroke-linecap="round" fill="none"/><ellipse cx="935.95" cy="463.2" rx="4.6" ry="2.6" fill="#cacaca"/><path d="M903.64 458.88C904.04 472.88 904.2 477.4 904.5 492.4H907.5C907.6 477.4 908.24 472.88 908.44 458.88Z" fill="#c6c6c6"/></g>
<g filter="url(#mshade)"><path d="M907.4 349.91C905.74 349.85 905.79 352.09 904.86 353.74C903.94 355.39 902.79 357.69 901.84 359.8C900.9 361.92 899.92 364.22 899.21 366.44C898.49 368.65 897.81 370.87 897.57 373.11C897.32 375.34 897.87 377.79 897.73 379.84C897.59 381.89 897.37 383.38 896.73 385.41C896.09 387.44 894.75 389.45 893.89 392.04C893.03 394.62 892.36 397.59 891.57 400.93C890.78 404.26 889.88 407.97 889.17 412.06C888.46 416.14 887.97 421.36 887.29 425.45C886.61 429.53 885.65 433.24 885.09 436.58C884.54 439.93 884.01 443.08 883.97 445.51C883.94 447.94 883.75 449.34 884.87 451.15C885.99 452.97 888.33 454.83 890.69 456.41C893.05 457.99 896.91 459.71 899.04 460.63C901.18 461.55 901.17 461.83 903.5 461.91C905.83 461.99 910.01 461.86 913.04 461.13C916.06 460.4 919.2 458.92 921.67 457.51C924.14 456.11 926.6 454.42 927.85 452.69C929.09 450.96 929.01 449.55 929.15 447.13C929.28 444.7 928.98 441.51 928.67 438.14C928.35 434.76 927.65 431 927.27 426.87C926.88 422.75 926.77 417.51 926.35 413.38C925.93 409.26 925.3 405.5 924.75 402.11C924.2 398.73 923.74 395.72 923.07 393.08C922.4 390.44 921.21 388.34 920.71 386.27C920.22 384.19 920.11 382.7 920.11 380.64C920.12 378.58 920.84 376.18 920.75 373.93C920.67 371.69 920.15 369.43 919.59 367.16C919.04 364.9 918.22 362.54 917.44 360.36C916.65 358.18 916.53 355.84 914.86 354.1C913.18 352.36 909.07 349.97 907.4 349.91Z"/><ellipse cx="923.49" cy="375.71" rx="4.48" ry="6.56" transform="rotate(-29.95 923.49 375.71)"/><path d="M897.57 389.93L888 378" stroke="#000" stroke-width="5.2" stroke-linecap="round" fill="none"/><circle cx="888" cy="378" r="3.1"/><path d="M891.57 445.78L885.13 457.89" stroke="#000" stroke-width="9" stroke-linecap="round" fill="none"/><path d="M921.55 446.86L927.11 459.39" stroke="#000" stroke-width="9" stroke-linecap="round" fill="none"/></g></g>
<g filter="url(#rag)"><ellipse cx="921" cy="377.6" rx="3.03" ry="6.8" transform="rotate(0 921 377.6)" fill="#a80c08" filter="url(#spk)"/><ellipse cx="921" cy="377.6" rx="1.4" ry="4" transform="rotate(0 921 377.6)" fill="url(#hotY)"/><ellipse cx="896" cy="390" rx="2.2" ry="2.6" transform="rotate(0 896 390)" fill="url(#hotR)"/><ellipse cx="925" cy="392.5" rx="2" ry="2" transform="rotate(0 925 392.5)" fill="url(#hotR)"/><ellipse cx="915" cy="419" rx="1" ry="1" transform="rotate(0 915 419)" fill="url(#hotR)"/><ellipse cx="926.5" cy="432.6" rx="1" ry="2" transform="rotate(0 926.5 432.6)" fill="url(#hotR)"/><ellipse cx="890" cy="435" rx="1.2" ry="1.2" transform="rotate(0 890 435)" fill="url(#hotR)"/></g>
<circle cx="909" cy="419" r="15.3" fill="none" stroke="#fff" stroke-width="1.8" stroke-dasharray="4.4 1.9"/>
</g>
<clipPath id="cc24"><rect x="944.5" y="346.4" width="77.5" height="145.0"/></clipPath>
<rect x="944.5" y="346.4" width="77.5" height="145.0" fill="#313131"/>
<rect x="944.5" y="346.4" width="77.5" height="145.0" filter="url(#bgn)"/>
<g clip-path="url(#cc24)">
<g opacity="0.8"><g filter="url(#soft)"><path d="M962.14 459.74L957 470" stroke="#bdbdbd" stroke-width="4.2" stroke-linecap="round" fill="none"/><ellipse cx="956.38" cy="471.2" rx="4.6" ry="2.6" fill="#cacaca"/><path d="M1009.56 457.6L1012 478" stroke="#bdbdbd" stroke-width="4.2" stroke-linecap="round" fill="none"/><ellipse cx="1012.29" cy="479.2" rx="4.6" ry="2.6" fill="#cacaca"/><path d="M983.55 458.89C983.95 472.89 984.2 477.4 984.5 492.4H987.5C987.6 477.4 988.15 472.89 988.35 458.89Z" fill="#c6c6c6"/></g>
<g filter="url(#mshade)"><path d="M978.06 351.13C976.18 351.22 976.43 353.43 975.53 355.14C974.63 356.85 973.53 359.22 972.64 361.39C971.76 363.56 970.85 365.92 970.24 368.17C969.62 370.42 969.04 372.67 968.96 374.9C968.87 377.13 969.69 379.5 969.71 381.54C969.72 383.58 969.6 385.07 969.05 387.13C968.51 389.19 967.17 391.29 966.42 393.92C965.67 396.55 965.16 399.54 964.56 402.9C963.96 406.27 963.26 410.01 962.8 414.11C962.35 418.2 962.24 423.4 961.82 427.5C961.4 431.59 960.63 435.34 960.29 438.69C959.95 442.04 959.62 445.21 959.79 447.61C959.95 450.01 959.86 451.41 961.28 453.1C962.69 454.8 965.48 456.44 968.28 457.79C971.07 459.15 975.56 460.52 978.05 461.25C980.53 461.97 980.54 462.25 983.18 462.13C985.81 462.01 990.5 461.52 993.85 460.53C997.2 459.55 1000.61 457.82 1003.27 456.22C1005.93 454.61 1008.56 452.73 1009.82 450.92C1011.08 449.1 1010.86 447.72 1010.81 445.31C1010.76 442.9 1010.15 439.78 1009.51 436.47C1008.87 433.16 1007.76 429.51 1006.98 425.46C1006.19 421.42 1005.62 416.26 1004.8 412.21C1003.97 408.17 1002.94 404.51 1002.04 401.22C1001.14 397.92 1000.36 394.99 999.38 392.44C998.4 389.89 996.88 387.92 996.15 385.91C995.41 383.9 995.16 382.43 994.99 380.4C994.83 378.37 995.43 375.93 995.14 373.72C994.86 371.51 994.08 369.32 993.26 367.13C992.45 364.94 991.33 362.68 990.26 360.59C989.18 358.51 988.85 356.21 986.82 354.63C984.79 353.05 979.95 351.05 978.06 351.13Z"/><ellipse cx="965.87" cy="376.71" rx="5.6" ry="8.2" transform="rotate(29.42 965.87 376.71)"/><ellipse cx="998.38" cy="375.24" rx="3.36" ry="4.92" transform="rotate(-34.58 998.38 375.24)"/><path d="M970.38 391.52L966 386" stroke="#000" stroke-width="5.2" stroke-linecap="round" fill="none"/><circle cx="966" cy="386" r="3.1"/><path d="M995.22 390.4L1008 388" stroke="#000" stroke-width="5.2" stroke-linecap="round" fill="none"/><circle cx="1008" cy="388" r="3.1"/><path d="M968.37 447.22L962.14 459.74" stroke="#000" stroke-width="9" stroke-linecap="round" fill="none"/><path d="M1002.23 445.7L1009.56 457.6" stroke="#000" stroke-width="9" stroke-linecap="round" fill="none"/></g></g>
<g filter="url(#rag)"><ellipse cx="987.5" cy="420" rx="14.92" ry="8.54" transform="rotate(0 987.5 420)" fill="#a80c08" filter="url(#spk)"/><ellipse cx="983" cy="418" rx="5.93" ry="4.48" transform="rotate(0 983 418)" fill="#a80c08" filter="url(#spk)"/><ellipse cx="992" cy="421" rx="5.35" ry="4.48" transform="rotate(0 992 421)" fill="#a80c08" filter="url(#spk)"/><ellipse cx="996" cy="436" rx="4.62" ry="5.35" transform="rotate(0 996 436)" fill="#a80c08" filter="url(#spk)"/><ellipse cx="987.5" cy="420" rx="9.6" ry="5.2" transform="rotate(0 987.5 420)" fill="url(#hotR)"/><ellipse cx="983" cy="418" rx="3.4" ry="2.4" transform="rotate(0 983 418)" fill="url(#hotO)"/><ellipse cx="992" cy="421" rx="3" ry="2.4" transform="rotate(0 992 421)" fill="url(#hotO)"/><ellipse cx="996" cy="436" rx="2.5" ry="3" transform="rotate(0 996 436)" fill="url(#hotR)"/><ellipse cx="968.5" cy="389" rx="2" ry="2" transform="rotate(0 968.5 389)" fill="url(#hotR)"/><ellipse cx="1005" cy="389" rx="1.6" ry="1.6" transform="rotate(0 1005 389)" fill="url(#hotR)"/></g>
<circle cx="985" cy="419" r="15.3" fill="none" stroke="#fff" stroke-width="1.8" stroke-dasharray="4.4 1.9"/>
</g>
<clipPath id="cc30"><rect x="624.5" y="493.8" width="77.5" height="145.0"/></clipPath>
<rect x="624.5" y="493.8" width="77.5" height="145.0" fill="#313131"/>
<rect x="624.5" y="493.8" width="77.5" height="145.0" filter="url(#bgn)"/>
<g clip-path="url(#cc30)">
<g opacity="0.9"><g filter="url(#soft)"><path d="M642.31 614.71L630 615" stroke="#bdbdbd" stroke-width="4.2" stroke-linecap="round" fill="none"/><ellipse cx="628.52" cy="616.2" rx="4.6" ry="2.6" fill="#cacaca"/><path d="M688.98 606.04L692.5 608.5" stroke="#bdbdbd" stroke-width="4.2" stroke-linecap="round" fill="none"/><ellipse cx="692.92" cy="609.7" rx="4.6" ry="2.6" fill="#cacaca"/><path d="M662.82 610.79C663.22 624.79 664.2 624.8 664.5 639.8H667.5C667.6 624.8 667.42 624.79 667.62 610.79Z" fill="#c6c6c6"/></g>
<g filter="url(#mshade)"><path d="M641.11 501.54C639.26 501.88 640.68 503.95 640.67 505.71C640.65 507.47 640.79 509.88 641 512.08C641.22 514.28 641.5 516.66 641.97 518.91C642.44 521.16 642.92 523.41 643.82 525.58C644.73 527.75 646.55 529.95 647.39 531.93C648.22 533.92 648.66 535.4 648.82 537.51C648.98 539.63 648.38 541.88 648.35 544.61C648.32 547.35 648.65 550.4 648.65 553.91C648.66 557.42 648.59 561.33 648.4 565.65C648.21 569.97 648.1 575.45 647.5 579.84C646.89 584.24 645.59 588.38 644.79 592.04C644 595.69 643.02 599.19 642.72 601.77C642.42 604.36 642 605.9 643 607.57C644.01 609.23 646.34 610.65 648.74 611.76C651.15 612.87 655.19 613.78 657.44 614.24C659.69 614.7 659.63 615 662.22 614.52C664.81 614.03 669.5 612.87 672.99 611.35C676.49 609.82 680.22 607.47 683.18 605.36C686.15 603.25 689.15 600.84 690.77 598.69C692.4 596.54 692.52 595.05 692.93 592.44C693.34 589.83 693.4 586.51 693.23 583.03C693.07 579.56 692.52 575.76 691.93 571.59C691.35 567.41 690.79 562.06 689.73 557.97C688.66 553.88 687.03 550.29 685.54 547.06C684.05 543.83 682.47 541 680.79 538.59C679.12 536.17 676.91 534.44 675.49 532.56C674.07 530.68 673.25 529.27 672.27 527.31C671.29 525.35 670.87 522.89 669.6 520.79C668.32 518.69 666.51 516.69 664.63 514.7C662.75 512.71 660.48 510.7 658.33 508.86C656.19 507.01 654.65 504.87 651.78 503.65C648.91 502.43 642.96 501.19 641.11 501.54Z"/><ellipse cx="673.52" cy="521.82" rx="6.16" ry="9.02" transform="rotate(-42.53 673.52 521.82)"/><path d="M651.59 541.67L635 531" stroke="#000" stroke-width="5.2" stroke-linecap="round" fill="none"/><circle cx="635" cy="531" r="3.1"/><path d="M651.16 600.21L642.31 614.71" stroke="#000" stroke-width="9" stroke-linecap="round" fill="none"/><path d="M684.49 594.01L688.98 606.04" stroke="#000" stroke-width="9" stroke-linecap="round" fill="none"/></g></g>
<g filter="url(#rag)"><ellipse cx="646.3" cy="502.6" rx="5.35" ry="5.35" transform="rotate(0 646.3 502.6)" fill="#a80c08" filter="url(#spk)"/><ellipse cx="666.3" cy="515" rx="4.48" ry="8.25" transform="rotate(-25 666.3 515)" fill="#a80c08" filter="url(#spk)"/><ellipse cx="664.5" cy="524.5" rx="5.35" ry="3.32" transform="rotate(0 664.5 524.5)" fill="#a80c08" filter="url(#spk)"/><ellipse cx="675" cy="546.3" rx="6.8" ry="7.09" transform="rotate(-35 675 546.3)" fill="#a80c08" filter="url(#spk)"/><ellipse cx="646.3" cy="502.6" rx="3" ry="3" transform="rotate(0 646.3 502.6)" fill="url(#hotY)"/><ellipse cx="666.3" cy="515" rx="2.4" ry="5" transform="rotate(-25 666.3 515)" fill="url(#hotO)"/><ellipse cx="664.5" cy="524.5" rx="3" ry="1.6" transform="rotate(0 664.5 524.5)" fill="url(#hotR)"/><ellipse cx="675" cy="546.3" rx="4" ry="4.2" transform="rotate(-35 675 546.3)" fill="url(#hotY)"/><ellipse cx="672" cy="587.6" rx="1.6" ry="2" transform="rotate(0 672 587.6)" fill="url(#hotO)"/><ellipse cx="638.8" cy="535" rx="1" ry="1.2" transform="rotate(0 638.8 535)" fill="url(#hotY)"/><ellipse cx="650" cy="509" rx="2" ry="3" transform="rotate(0 650 509)" fill="#a80c08" filter="url(#spk)"/></g>
<circle cx="669.5" cy="566.3" r="15.3" fill="none" stroke="#fff" stroke-width="1.8" stroke-dasharray="4.4 1.9"/>
</g>
<clipPath id="cc31"><rect x="704.5" y="493.8" width="77.5" height="145.0"/></clipPath>
<rect x="704.5" y="493.8" width="77.5" height="145.0" fill="#313131"/>
<rect x="704.5" y="493.8" width="77.5" height="145.0" filter="url(#bgn)"/>
<g clip-path="url(#cc31)">
<g opacity="0.9"><g filter="url(#soft)"><path d="M718.03 612.87L711 624" stroke="#bdbdbd" stroke-width="4.2" stroke-linecap="round" fill="none"/><ellipse cx="710.16" cy="625.2" rx="4.6" ry="2.6" fill="#cacaca"/><path d="M768.42 611.87L777 613.6" stroke="#bdbdbd" stroke-width="4.2" stroke-linecap="round" fill="none"/><ellipse cx="778.03" cy="614.8" rx="4.6" ry="2.6" fill="#cacaca"/><path d="M740.88 612.79C741.28 626.79 740.7 624.8 741 639.8H744C744.1 624.8 745.48 626.79 745.68 612.79Z" fill="#c6c6c6"/></g>
<g filter="url(#mshade)"><path d="M737.78 495.06C735.78 495.1 735.99 497.52 734.99 499.35C733.98 501.19 732.75 503.74 731.76 506.08C730.76 508.42 729.73 510.96 729.02 513.39C728.31 515.83 727.64 518.26 727.49 520.69C727.33 523.11 728.15 525.72 728.11 527.94C728.07 530.16 727.91 531.77 727.27 534.01C726.63 536.24 725.16 538.49 724.3 541.33C723.43 544.17 722.82 547.41 722.09 551.06C721.36 554.7 720.52 558.75 719.93 563.2C719.34 567.65 719.09 573.31 718.54 577.76C717.98 582.21 717.07 586.26 716.62 589.9C716.17 593.54 715.74 596.98 715.85 599.6C715.96 602.22 715.83 603.73 717.29 605.62C718.75 607.51 721.66 609.37 724.6 610.92C727.53 612.48 732.26 614.1 734.88 614.96C737.5 615.81 737.5 616.12 740.3 616.06C743.1 616 748.09 615.6 751.67 614.62C755.26 613.64 758.92 611.86 761.79 610.19C764.66 608.52 767.5 606.54 768.88 604.6C770.26 602.65 770.07 601.15 770.08 598.52C770.09 595.9 769.52 592.48 768.93 588.86C768.33 585.24 767.26 581.23 766.53 576.8C765.8 572.38 765.33 566.74 764.56 562.32C763.79 557.89 762.79 553.88 761.92 550.26C761.05 546.65 760.3 543.44 759.33 540.63C758.35 537.83 756.79 535.64 756.07 533.43C755.34 531.23 755.11 529.62 754.99 527.4C754.86 525.19 755.57 522.55 755.32 520.13C755.07 517.72 754.31 515.31 753.5 512.91C752.69 510.5 751.56 508 750.47 505.7C749.39 503.41 749.1 500.89 746.98 499.12C744.87 497.34 739.78 495.02 737.78 495.06Z"/><ellipse cx="724.16" cy="522.57" rx="7.7" ry="11.27" transform="rotate(30.86 724.16 522.57)"/><path d="M754.96 538.3L766.1 524.6" stroke="#000" stroke-width="5.2" stroke-linecap="round" fill="none"/><circle cx="766.1" cy="524.6" r="3.1"/><path d="M724.97 599.42L718.03 612.87" stroke="#000" stroke-width="9" stroke-linecap="round" fill="none"/><path d="M760.96 598.7L768.42 611.87" stroke="#000" stroke-width="9" stroke-linecap="round" fill="none"/></g></g>
<g filter="url(#rag)"><ellipse cx="731.5" cy="508" rx="3.61" ry="9.7" transform="rotate(0 731.5 508)" fill="#a80c08" filter="url(#spk)"/><ellipse cx="733" cy="523.8" rx="5.06" ry="5.06" transform="rotate(0 733 523.8)" fill="#a80c08" filter="url(#spk)"/><ellipse cx="728.8" cy="545" rx="4.77" ry="8.83" transform="rotate(10 728.8 545)" fill="#a80c08" filter="url(#spk)"/><ellipse cx="755.5" cy="538.8" rx="4.77" ry="7.09" transform="rotate(-20 755.5 538.8)" fill="#a80c08" filter="url(#spk)"/><ellipse cx="722" cy="582" rx="3.9" ry="6.8" transform="rotate(0 722 582)" fill="#a80c08" filter="url(#spk)"/><ellipse cx="731.5" cy="598.5" rx="5.06" ry="7.09" transform="rotate(0 731.5 598.5)" fill="#a80c08" filter="url(#spk)"/><ellipse cx="750" cy="591" rx="10.28" ry="5.35" transform="rotate(15 750 591)" fill="#a80c08" filter="url(#spk)"/><ellipse cx="761" cy="595" rx="5.06" ry="5.93" transform="rotate(0 761 595)" fill="#a80c08" filter="url(#spk)"/><ellipse cx="731.5" cy="508" rx="1.8" ry="6" transform="rotate(0 731.5 508)" fill="url(#hotR)"/><ellipse cx="733" cy="523.8" rx="2.8" ry="2.8" transform="rotate(0 733 523.8)" fill="url(#hotR)"/><ellipse cx="728.5" cy="546.3" rx="5.4" ry="8" transform="rotate(0 728.5 546.3)" fill="#a80c08" filter="url(#spk)"/><ellipse cx="728.8" cy="545" rx="2.6" ry="5.4" transform="rotate(10 728.8 545)" fill="url(#hotR)"/><ellipse cx="755.5" cy="538.8" rx="2.6" ry="4.2" transform="rotate(-20 755.5 538.8)" fill="url(#hotO)"/><ellipse cx="752" cy="567.6" rx="2.2" ry="2.2" transform="rotate(0 752 567.6)" fill="url(#hotO)"/><ellipse cx="721.5" cy="583" rx="4" ry="7" transform="rotate(0 721.5 583)" fill="#a80c08" filter="url(#spk)"/><ellipse cx="722" cy="582" rx="2" ry="4" transform="rotate(0 722 582)" fill="url(#hotR)"/><ellipse cx="731.5" cy="598.5" rx="2.8" ry="4.2" transform="rotate(0 731.5 598.5)" fill="url(#hotY)"/><ellipse cx="750" cy="591" rx="6.4" ry="3" transform="rotate(15 750 591)" fill="url(#hotR)"/><ellipse cx="754" cy="589.6" rx="2" ry="1.6" transform="rotate(0 754 589.6)" fill="url(#hotO)"/><ellipse cx="761" cy="595" rx="2.8" ry="3.4" transform="rotate(0 761 595)" fill="url(#hotR)"/><ellipse cx="736" cy="504" rx="4" ry="6" transform="rotate(0 736 504)" fill="#a80c08" filter="url(#spk)"/><ellipse cx="760" cy="600" rx="5" ry="5" transform="rotate(0 760 600)" fill="#a80c08" filter="url(#spk)"/></g>
<circle cx="743.3" cy="564.8" r="15.3" fill="none" stroke="#fff" stroke-width="1.8" stroke-dasharray="4.4 1.9"/>
</g>
<clipPath id="cc32"><rect x="784.5" y="493.8" width="77.5" height="145.0"/></clipPath>
<rect x="784.5" y="493.8" width="77.5" height="145.0" fill="#313131"/>
<rect x="784.5" y="493.8" width="77.5" height="145.0" filter="url(#bgn)"/>
<g clip-path="url(#cc32)">
<g opacity="0.9"><g filter="url(#soft)"><path d="M812.01 602.92L791 620" stroke="#bdbdbd" stroke-width="4.2" stroke-linecap="round" fill="none"/><ellipse cx="788.48" cy="621.2" rx="4.6" ry="2.6" fill="#cacaca"/><path d="M850.92 599.54L853.5 597.5" stroke="#bdbdbd" stroke-width="4.2" stroke-linecap="round" fill="none"/><ellipse cx="853.81" cy="598.7" rx="4.6" ry="2.6" fill="#cacaca"/><path d="M829.02 601.41C829.42 615.41 828.2 624.8 828.5 639.8H831.5C831.6 624.8 833.62 615.41 833.82 601.41Z" fill="#c6c6c6"/></g>
<g filter="url(#mshade)"><path d="M819.59 496.71C818.05 496.84 818.59 498.97 818.1 500.65C817.61 502.32 817.06 504.64 816.65 506.76C816.23 508.88 815.82 511.18 815.63 513.38C815.44 515.57 815.27 517.76 815.48 519.92C815.7 522.08 816.67 524.35 816.92 526.32C817.17 528.3 817.24 529.74 817 531.76C816.75 533.77 815.87 535.85 815.47 538.42C815.06 540.99 814.9 543.91 814.59 547.2C814.29 550.49 813.92 554.15 813.64 558.17C813.37 562.18 813.33 567.26 812.97 571.28C812.61 575.3 811.86 579 811.48 582.29C811.1 585.59 810.68 588.71 810.71 591.07C810.74 593.42 810.59 594.79 811.66 596.42C812.73 598.05 814.92 599.59 817.13 600.84C819.35 602.1 822.94 603.33 824.94 603.97C826.93 604.62 826.92 604.89 829.08 604.7C831.25 604.51 835.11 603.9 837.91 602.85C840.7 601.79 843.59 599.99 845.86 598.34C848.12 596.7 850.38 594.78 851.5 592.96C852.62 591.14 852.53 589.78 852.59 587.42C852.65 585.06 852.3 582.01 851.87 578.78C851.45 575.55 850.66 571.99 850.03 568.06C849.4 564.12 848.89 559.09 848.11 555.17C847.33 551.24 846.29 547.71 845.35 544.52C844.42 541.34 843.54 538.52 842.52 536.06C841.5 533.61 840.04 531.75 839.23 529.82C838.42 527.9 838.05 526.48 837.67 524.52C837.3 522.55 837.5 520.18 836.98 518.05C836.45 515.92 835.51 513.82 834.53 511.73C833.55 509.64 832.29 507.48 831.1 505.5C829.9 503.52 829.28 501.31 827.37 499.84C825.45 498.38 821.14 496.58 819.59 496.71Z"/><ellipse cx="813.16" cy="521.75" rx="5.32" ry="7.79" transform="rotate(27.03 813.16 521.75)"/><ellipse cx="839.85" cy="519.43" rx="5.32" ry="7.79" transform="rotate(-36.97 839.85 519.43)"/><path d="M818.52 535.98L811 529" stroke="#000" stroke-width="5.2" stroke-linecap="round" fill="none"/><circle cx="811" cy="529" r="3.1"/><path d="M817.75 590.45L812.01 602.92" stroke="#000" stroke-width="9" stroke-linecap="round" fill="none"/><path d="M845.55 588.03L850.92 599.54" stroke="#000" stroke-width="9" stroke-linecap="round" fill="none"/></g></g>
<g filter="url(#rag)"><ellipse cx="818.1" cy="531.7" rx="4.48" ry="13.47" transform="rotate(4 818.1 531.7)" fill="#a80c08" filter="url(#spk)"/><ellipse cx="838.5" cy="523.8" rx="3.9" ry="9.7" transform="rotate(-8 838.5 523.8)" fill="#a80c08" filter="url(#spk)"/><ellipse cx="821.5" cy="500.2" rx="1.5" ry="2.6" transform="rotate(0 821.5 500.2)" fill="url(#hotO)"/><ellipse cx="818.1" cy="531.7" rx="2.4" ry="8.6" transform="rotate(4 818.1 531.7)" fill="url(#hotR)"/><ellipse cx="838.5" cy="523.8" rx="2" ry="6" transform="rotate(-8 838.5 523.8)" fill="url(#hotR)"/><ellipse cx="841.2" cy="538.5" rx="2.6" ry="2.6" transform="rotate(0 841.2 538.5)" fill="url(#hotO)"/><ellipse cx="831.9" cy="535.6" rx="2" ry="2" transform="rotate(0 831.9 535.6)" fill="url(#hotR)"/><ellipse cx="832.7" cy="562.4" rx="1.6" ry="2.6" transform="rotate(0 832.7 562.4)" fill="url(#hotY)"/><ellipse cx="839.3" cy="572.3" rx="2" ry="1.1" transform="rotate(0 839.3 572.3)" fill="url(#hotR)"/><ellipse cx="839.3" cy="581.3" rx="2" ry="2.4" transform="rotate(0 839.3 581.3)" fill="url(#hotR)"/></g>
<circle cx="831.4" cy="566.7" r="15.3" fill="none" stroke="#fff" stroke-width="1.8" stroke-dasharray="4.4 1.9"/>
</g>
<clipPath id="cc33"><rect x="864.5" y="493.8" width="77.5" height="145.0"/></clipPath>
<rect x="864.5" y="493.8" width="77.5" height="145.0" fill="#313131"/>
<rect x="864.5" y="493.8" width="77.5" height="145.0" filter="url(#bgn)"/>
<g clip-path="url(#cc33)">
<g opacity="0.9"><g filter="url(#soft)"><path d="M884.23 609.41L884 617.5" stroke="#bdbdbd" stroke-width="4.2" stroke-linecap="round" fill="none"/><ellipse cx="883.97" cy="618.7" rx="4.6" ry="2.6" fill="#cacaca"/><path d="M929.17 609.6L933 617" stroke="#bdbdbd" stroke-width="4.2" stroke-linecap="round" fill="none"/><ellipse cx="933.46" cy="618.2" rx="4.6" ry="2.6" fill="#cacaca"/><path d="M904.17 609.84C904.57 623.84 904.7 624.8 905 639.8H908C908.1 624.8 908.77 623.84 908.97 609.84Z" fill="#c6c6c6"/></g>
<g filter="url(#mshade)"><path d="M904.22 496.49C902.43 496.48 902.69 498.81 901.85 500.56C901.01 502.3 899.98 504.72 899.16 506.95C898.33 509.18 897.48 511.6 896.9 513.93C896.33 516.26 895.78 518.59 895.69 520.92C895.6 523.25 896.36 525.77 896.36 527.91C896.35 530.05 896.22 531.6 895.66 533.73C895.11 535.87 893.8 538 893.02 540.71C892.24 543.43 891.67 546.53 890.96 550.02C890.25 553.51 889.43 557.39 888.75 561.66C888.08 565.93 887.62 571.37 886.92 575.64C886.22 579.9 885.16 583.78 884.54 587.28C883.92 590.77 883.3 594.07 883.23 596.59C883.15 599.11 882.92 600.57 884.09 602.42C885.25 604.27 887.72 606.12 890.22 607.69C892.71 609.25 896.81 610.92 899.08 611.8C901.35 612.69 901.33 612.98 903.83 612.99C906.32 613 910.8 612.73 914.06 611.87C917.32 611.01 920.71 609.37 923.38 607.83C926.06 606.29 928.73 604.45 930.1 602.62C931.47 600.78 931.41 599.32 931.59 596.8C931.77 594.27 931.5 590.97 931.19 587.48C930.88 583.98 930.16 580.09 929.72 575.82C929.28 571.55 929.1 566.11 928.56 561.83C928.02 557.56 927.2 553.67 926.49 550.17C925.77 546.68 925.12 543.57 924.26 540.84C923.41 538.12 922 535.98 921.34 533.84C920.69 531.7 920.46 530.15 920.33 528.01C920.19 525.88 920.78 523.35 920.51 521.02C920.25 518.69 919.51 516.36 918.73 514.03C917.96 511.69 916.88 509.26 915.85 507.02C914.82 504.79 914.49 502.36 912.55 500.6C910.61 498.85 906 496.5 904.22 496.49Z"/><path d="M920.37 538.5L926 526" stroke="#000" stroke-width="5.2" stroke-linecap="round" fill="none"/><circle cx="926" cy="526" r="3.1"/><path d="M891.36 596.62L884.23 609.41" stroke="#000" stroke-width="9" stroke-linecap="round" fill="none"/><path d="M923.46 596.76L929.17 609.6" stroke="#000" stroke-width="9" stroke-linecap="round" fill="none"/></g></g>
<g filter="url(#rag)"><ellipse cx="910.6" cy="562" rx="5.78" ry="11.44" transform="rotate(8 910.6 562)" fill="#a80c08" filter="url(#spk)"/><ellipse cx="909" cy="571.5" rx="4.48" ry="5.35" transform="rotate(0 909 571.5)" fill="#a80c08" filter="url(#spk)"/><ellipse cx="897.4" cy="540" rx="4.48" ry="9.12" transform="rotate(0 897.4 540)" fill="#a80c08" filter="url(#spk)"/><ellipse cx="919.6" cy="538" rx="3.17" ry="11.15" transform="rotate(0 919.6 538)" fill="#a80c08" filter="url(#spk)"/><ellipse cx="897.4" cy="514.8" rx="2.45" ry="5.35" transform="rotate(0 897.4 514.8)" fill="#a80c08" filter="url(#spk)"/><ellipse cx="916.8" cy="515.8" rx="2.45" ry="6.8" transform="rotate(0 916.8 515.8)" fill="#a80c08" filter="url(#spk)"/><ellipse cx="923" cy="605" rx="3.9" ry="5.35" transform="rotate(0 923 605)" fill="#a80c08" filter="url(#spk)"/><ellipse cx="910.6" cy="562" rx="3.3" ry="7.2" transform="rotate(8 910.6 562)" fill="url(#hotY)"/><ellipse cx="909" cy="571.5" rx="2.4" ry="3" transform="rotate(0 909 571.5)" fill="url(#hotR)"/><ellipse cx="919.2" cy="561.6" rx="1" ry="1.4" transform="rotate(0 919.2 561.6)" fill="url(#hotO)"/><ellipse cx="897.4" cy="540" rx="2.4" ry="5.6" transform="rotate(0 897.4 540)" fill="url(#hotR)"/><ellipse cx="919.6" cy="538" rx="1.5" ry="7" transform="rotate(0 919.6 538)" fill="url(#hotR)"/><ellipse cx="897.4" cy="514.8" rx="1" ry="3" transform="rotate(0 897.4 514.8)" fill="url(#hotR)"/><ellipse cx="916.8" cy="515.8" rx="1" ry="4" transform="rotate(0 916.8 515.8)" fill="url(#hotR)"/><ellipse cx="906" cy="604.6" rx="1.5" ry="2" transform="rotate(0 906 604.6)" fill="url(#hotR)"/><ellipse cx="923" cy="605" rx="2" ry="3" transform="rotate(0 923 605)" fill="url(#hotR)"/></g>
<circle cx="908.6" cy="565" r="15.3" fill="none" stroke="#fff" stroke-width="1.8" stroke-dasharray="4.4 1.9"/>
</g>
<clipPath id="cc34"><rect x="944.5" y="493.8" width="77.5" height="145.0"/></clipPath>
<rect x="944.5" y="493.8" width="77.5" height="145.0" fill="#313131"/>
<rect x="944.5" y="493.8" width="77.5" height="145.0" filter="url(#bgn)"/>
<g clip-path="url(#cc34)">
<g opacity="0.9"><g filter="url(#soft)"><path d="M954.41 608.14L950.5 623" stroke="#bdbdbd" stroke-width="4.2" stroke-linecap="round" fill="none"/><ellipse cx="950.03" cy="624.2" rx="4.6" ry="2.6" fill="#cacaca"/><path d="M1002.7 608.93L1016 617" stroke="#bdbdbd" stroke-width="4.2" stroke-linecap="round" fill="none"/><ellipse cx="1017.6" cy="618.2" rx="4.6" ry="2.6" fill="#cacaca"/><path d="M976.12 608.85C976.52 622.85 975.7 624.8 976 639.8H979C979.1 624.8 980.72 622.85 980.92 608.85Z" fill="#c6c6c6"/></g>
<g filter="url(#mshade)"><path d="M977.41 496.45C975.49 496.42 975.61 498.73 974.58 500.45C973.56 502.16 972.29 504.55 971.26 506.75C970.23 508.94 969.15 511.33 968.39 513.63C967.62 515.93 966.89 518.23 966.66 520.54C966.43 522.84 967.12 525.36 967.01 527.47C966.9 529.59 966.68 531.13 965.99 533.23C965.31 535.34 963.82 537.43 962.89 540.11C961.96 542.79 961.26 545.86 960.44 549.32C959.62 552.77 958.67 556.6 957.95 560.83C957.23 565.05 956.79 570.44 956.11 574.66C955.43 578.89 954.41 582.72 953.85 586.18C953.3 589.63 952.76 592.9 952.78 595.4C952.8 597.91 952.62 599.35 953.95 601.2C955.28 603.05 958.01 604.92 960.76 606.51C963.52 608.1 967.99 609.81 970.47 610.71C972.95 611.62 972.94 611.91 975.63 611.95C978.31 612 983.1 611.79 986.57 610.98C990.03 610.17 993.6 608.59 996.41 607.1C999.21 605.6 1002 603.82 1003.39 602.01C1004.78 600.21 1004.65 598.76 1004.75 596.26C1004.85 593.76 1004.43 590.48 1003.98 587C1003.54 583.53 1002.65 579.66 1002.1 575.42C1001.56 571.17 1001.31 565.78 1000.72 561.53C1000.14 557.29 999.32 553.42 998.61 549.94C997.9 546.47 997.3 543.38 996.47 540.67C995.63 537.96 994.21 535.82 993.59 533.69C992.97 531.56 992.81 530.02 992.77 527.9C992.72 525.78 993.49 523.29 993.34 520.97C993.19 518.66 992.53 516.34 991.84 514.02C991.15 511.7 990.16 509.27 989.2 507.04C988.24 504.81 988.05 502.4 986.08 500.64C984.12 498.87 979.33 496.48 977.41 496.45Z"/><ellipse cx="963.41" cy="522.22" rx="5.6" ry="8.2" transform="rotate(32.94 963.41 522.22)"/><path d="M992.36 538.29L1000.6 526.3" stroke="#000" stroke-width="5.2" stroke-linecap="round" fill="none"/><circle cx="1000.6" cy="526.3" r="3.1"/><path d="M961.52 595.55L954.41 608.14" stroke="#000" stroke-width="9" stroke-linecap="round" fill="none"/><path d="M996.01 596.11L1002.7 608.93" stroke="#000" stroke-width="9" stroke-linecap="round" fill="none"/></g></g>
<g filter="url(#rag)"><ellipse cx="971.2" cy="565" rx="5.35" ry="6.22" transform="rotate(0 971.2 565)" fill="#a80c08" filter="url(#spk)"/><ellipse cx="977.6" cy="569" rx="6.8" ry="4.48" transform="rotate(0 977.6 569)" fill="#a80c08" filter="url(#spk)"/><ellipse cx="984.6" cy="563.2" rx="3.61" ry="7.09" transform="rotate(0 984.6 563.2)" fill="#a80c08" filter="url(#spk)"/><ellipse cx="967.3" cy="515.8" rx="4.48" ry="8.25" transform="rotate(0 967.3 515.8)" fill="#a80c08" filter="url(#spk)"/><ellipse cx="967.8" cy="601.6" rx="9.7" ry="6.8" transform="rotate(0 967.8 601.6)" fill="#a80c08" filter="url(#spk)"/><ellipse cx="980.4" cy="606.4" rx="6.8" ry="4.48" transform="rotate(0 980.4 606.4)" fill="#a80c08" filter="url(#spk)"/><ellipse cx="971.2" cy="565" rx="3" ry="3.6" transform="rotate(0 971.2 565)" fill="url(#hotR)"/><ellipse cx="977.6" cy="569" rx="4" ry="2.4" transform="rotate(0 977.6 569)" fill="url(#hotR)"/><ellipse cx="984.6" cy="563.2" rx="1.8" ry="4.2" transform="rotate(0 984.6 563.2)" fill="url(#hotY)"/><ellipse cx="994" cy="562" rx="1" ry="1.6" transform="rotate(0 994 562)" fill="url(#hotO)"/><ellipse cx="967.3" cy="515.8" rx="2.4" ry="5" transform="rotate(0 967.3 515.8)" fill="url(#hotR)"/><ellipse cx="963" cy="590" rx="4.6" ry="11" transform="rotate(0 963 590)" fill="#a80c08" filter="url(#spk)"/><ellipse cx="967.8" cy="601.6" rx="6" ry="4" transform="rotate(0 967.8 601.6)" fill="url(#hotR)"/><ellipse cx="980.4" cy="606.4" rx="4" ry="2.4" transform="rotate(0 980.4 606.4)" fill="url(#hotR)"/><ellipse cx="995.8" cy="596" rx="5" ry="8" transform="rotate(0 995.8 596)" fill="#a80c08" filter="url(#spk)"/><ellipse cx="998.7" cy="584.2" rx="2" ry="6" transform="rotate(0 998.7 584.2)" fill="#a80c08" filter="url(#spk)"/><ellipse cx="972" cy="596" rx="5" ry="6" transform="rotate(0 972 596)" fill="#a80c08" filter="url(#spk)"/></g>
<circle cx="980.4" cy="565.3" r="15.3" fill="none" stroke="#fff" stroke-width="1.8" stroke-dasharray="4.4 1.9"/>
</g>
<rect x="1023" y="493.2" width="13.4" height="145.5" fill="url(#cbar)"/>
<text x="1038.60" y="503.00" font-size="13.5" text-anchor="start" fill="#000" font-weight="bold">8.03</text>
<text x="1038.60" y="637.60" font-size="13.5" text-anchor="start" fill="#000" font-weight="bold">3.43</text>
<text x="1067.60" y="659.00" font-size="15.6" text-anchor="end" fill="#000" font-weight="bold">(×10<tspan font-size="9.8" dy="-4.6">10</tspan><tspan dy="4.6"> p/sec/cm</tspan><tspan font-size="9.8" dy="-4.6">2</tspan><tspan dy="4.6">/sr)</tspan></text>
</g>
<g id="pc">
<text x="8.50" y="593.00" font-size="20.3" text-anchor="start" fill="#000" font-weight="bold">(c)</text>
<path d="M100.86 684.81V711.46M98.96 684.81h3.8M98.96 711.46h3.8" stroke="#8c8c8c" stroke-width="0.7" fill="none"/>
<path d="M115.3 661.54V715.59M113.4 661.54h3.8M113.4 715.59h3.8" stroke="#8c8c8c" stroke-width="0.7" fill="none"/>
<path d="M151.4 682.37V722.91M149.5 682.37h3.8M149.5 722.91h3.8" stroke="#8c8c8c" stroke-width="0.7" fill="none"/>
<path d="M223.6 688.38V703.77M221.7 688.38h3.8M221.7 703.77h3.8" stroke="#8c8c8c" stroke-width="0.7" fill="none"/>
<path d="M295.8 685.19V721.22M293.9 685.19h3.8M293.9 721.22h3.8" stroke="#8c8c8c" stroke-width="0.7" fill="none"/>
<path d="M100.86 801.18V807.75M98.96 801.18h3.8M98.96 807.75h3.8" stroke="#8c8c8c" stroke-width="0.7" fill="none"/>
<path d="M115.3 798.37V807.75M113.4 798.37h3.8M113.4 807.75h3.8" stroke="#8c8c8c" stroke-width="0.7" fill="none"/>
<path d="M151.4 795.93V806.44M149.5 795.93h3.8M149.5 806.44h3.8" stroke="#8c8c8c" stroke-width="0.7" fill="none"/>
<path d="M223.6 795.18V803.06M221.7 795.18h3.8M221.7 803.06h3.8" stroke="#8c8c8c" stroke-width="0.7" fill="none"/>
<path d="M295.8 793.68V803.06M293.9 793.68h3.8M293.9 803.06h3.8" stroke="#8c8c8c" stroke-width="0.7" fill="none"/>
<path d="M100.86 802.12V806.82M98.96 802.12h3.8M98.96 806.82h3.8" stroke="#8c8c8c" stroke-width="0.7" fill="none"/>
<path d="M115.3 795.93V800.06M113.4 795.93h3.8M113.4 800.06h3.8" stroke="#8c8c8c" stroke-width="0.7" fill="none"/>
<path d="M151.4 782.79V786.92M149.5 782.79h3.8M149.5 786.92h3.8" stroke="#8c8c8c" stroke-width="0.7" fill="none"/>
<path d="M223.6 757.45V772.65M221.7 757.45h3.8M221.7 772.65h3.8" stroke="#8c8c8c" stroke-width="0.7" fill="none"/>
<path d="M295.8 725.92V737.93M293.9 725.92h3.8M293.9 737.93h3.8" stroke="#8c8c8c" stroke-width="0.7" fill="none"/>
<path d="M100.86 802.69V807.19M98.96 802.69h3.8M98.96 807.19h3.8" stroke="#8c8c8c" stroke-width="0.7" fill="none"/>
<path d="M115.3 761.2V765.33M113.4 761.2h3.8M113.4 765.33h3.8" stroke="#8c8c8c" stroke-width="0.7" fill="none"/>
<path d="M151.4 739.24V752.76M149.5 739.24h3.8M149.5 752.76h3.8" stroke="#8c8c8c" stroke-width="0.7" fill="none"/>
<path d="M223.6 712.97V717.85M221.7 712.97h3.8M221.7 717.85h3.8" stroke="#8c8c8c" stroke-width="0.7" fill="none"/>
<path d="M295.8 711.09V726.48M293.9 711.09h3.8M293.9 726.48h3.8" stroke="#8c8c8c" stroke-width="0.7" fill="none"/>
<polyline points="100.86,697.95 115.3,688.56 151.4,702.64 223.6,695.88 295.8,703.77" fill="none" stroke="#f6bda6" stroke-width="1.7" stroke-linejoin="round"/>
<rect x="97.96" y="695.05" width="5.8" height="5.8" fill="#e3a622"/>
<rect x="112.4" y="685.66" width="5.8" height="5.8" fill="#e3a622"/>
<rect x="148.5" y="699.74" width="5.8" height="5.8" fill="#e3a622"/>
<rect x="220.7" y="692.98" width="5.8" height="5.8" fill="#e3a622"/>
<rect x="292.9" y="700.87" width="5.8" height="5.8" fill="#e3a622"/>
<polyline points="100.86,804.56 115.3,803.06 151.4,801.18 223.6,799.31 295.8,798.37" fill="none" stroke="#93ccb3" stroke-width="1.7" stroke-linejoin="round"/>
<path d="M100.86 800.76L104.46 807.16H97.26Z" fill="#5da12c"/>
<path d="M115.3 799.26L118.9 805.66H111.7Z" fill="#5da12c"/>
<path d="M151.4 797.38L155 803.78H147.8Z" fill="#5da12c"/>
<path d="M223.6 795.51L227.2 801.91H220Z" fill="#5da12c"/>
<path d="M295.8 794.57L299.4 800.97H292.2Z" fill="#5da12c"/>
<polyline points="100.86,804.56 115.3,797.99 151.4,784.85 223.6,764.77 295.8,731.92" fill="none" stroke="#5b7fc0" stroke-width="1.7" stroke-linejoin="round"/>
<polygon points="100.86,800.96 101.75,803.34 104.28,803.45 102.3,805.03 102.98,807.48 100.86,806.07 98.74,807.48 99.42,805.03 97.44,803.45 99.97,803.34" fill="#55609e"/>
<polygon points="115.3,794.39 116.19,796.77 118.72,796.88 116.74,798.46 117.42,800.91 115.3,799.51 113.18,800.91 113.86,798.46 111.88,796.88 114.41,796.77" fill="#55609e"/>
<polygon points="151.4,781.25 152.29,783.63 154.82,783.74 152.84,785.32 153.52,787.77 151.4,786.37 149.28,787.77 149.96,785.32 147.98,783.74 150.51,783.63" fill="#55609e"/>
<polygon points="223.6,761.17 224.49,763.55 227.02,763.66 225.04,765.24 225.72,767.68 223.6,766.28 221.48,767.68 222.16,765.24 220.18,763.66 222.71,763.55" fill="#55609e"/>
<polygon points="295.8,728.32 296.69,730.7 299.22,730.81 297.24,732.39 297.92,734.84 295.8,733.43 293.68,734.84 294.36,732.39 292.38,730.81 294.91,730.7" fill="#55609e"/>
<polyline points="100.86,804.94 115.3,763.27 151.4,745.81 223.6,715.41 295.8,718.6" fill="none" stroke="#c291aa" stroke-width="1.7" stroke-linejoin="round"/>
<circle cx="100.86" cy="804.94" r="2.7" fill="#f7c3c6" stroke="#f08c94" stroke-width="1"/>
<circle cx="115.3" cy="763.27" r="2.7" fill="#f7c3c6" stroke="#f08c94" stroke-width="1"/>
<circle cx="151.4" cy="745.81" r="2.7" fill="#f7c3c6" stroke="#f08c94" stroke-width="1"/>
<circle cx="223.6" cy="715.41" r="2.7" fill="#f7c3c6" stroke="#f08c94" stroke-width="1"/>
<circle cx="295.8" cy="718.6" r="2.7" fill="#f7c3c6" stroke="#f08c94" stroke-width="1"/>
<rect x="78.8" y="628.2" width="234.39999999999998" height="188.5999999999999" fill="none" stroke="#000" stroke-width="1.6"/>
<path d="M75.2 816.2H78.8" stroke="#000" stroke-width="1.4"/>
<text x="73.60" y="821.40" font-size="14.6" text-anchor="end" fill="#000" font-weight="bold">0</text>
<path d="M75.2 778.66H78.8" stroke="#000" stroke-width="1.4"/>
<text x="73.60" y="783.86" font-size="14.6" text-anchor="end" fill="#000" font-weight="bold">2</text>
<path d="M75.2 741.12H78.8" stroke="#000" stroke-width="1.4"/>
<text x="73.60" y="746.32" font-size="14.6" text-anchor="end" fill="#000" font-weight="bold">4</text>
<path d="M75.2 703.58H78.8" stroke="#000" stroke-width="1.4"/>
<text x="73.60" y="708.78" font-size="14.6" text-anchor="end" fill="#000" font-weight="bold">6</text>
<path d="M75.2 666.04H78.8" stroke="#000" stroke-width="1.4"/>
<text x="73.60" y="671.24" font-size="14.6" text-anchor="end" fill="#000" font-weight="bold">8</text>
<path d="M75.2 628.5H78.8" stroke="#000" stroke-width="1.4"/>
<text x="73.60" y="633.70" font-size="14.6" text-anchor="end" fill="#000" font-weight="bold">10</text>
<path d="M76.8 797.43H78.8" stroke="#000" stroke-width="1.1"/>
<path d="M76.8 759.89H78.8" stroke="#000" stroke-width="1.1"/>
<path d="M76.8 722.35H78.8" stroke="#000" stroke-width="1.1"/>
<path d="M76.8 684.81H78.8" stroke="#000" stroke-width="1.1"/>
<path d="M76.8 647.27H78.8" stroke="#000" stroke-width="1.1"/>
<path d="M79.2 816.8V820.4" stroke="#000" stroke-width="1.4"/>
<text x="79.40" y="835.20" font-size="14.6" text-anchor="middle" fill="#000" font-weight="bold">0</text>
<path d="M115.3 816.8V820.4" stroke="#000" stroke-width="1.4"/>
<text x="115.50" y="835.20" font-size="14.6" text-anchor="middle" fill="#000" font-weight="bold">5</text>
<path d="M151.4 816.8V820.4" stroke="#000" stroke-width="1.4"/>
<text x="151.60" y="835.20" font-size="14.6" text-anchor="middle" fill="#000" font-weight="bold">10</text>
<path d="M187.5 816.8V820.4" stroke="#000" stroke-width="1.4"/>
<text x="187.70" y="835.20" font-size="14.6" text-anchor="middle" fill="#000" font-weight="bold">15</text>
<path d="M223.6 816.8V820.4" stroke="#000" stroke-width="1.4"/>
<text x="223.80" y="835.20" font-size="14.6" text-anchor="middle" fill="#000" font-weight="bold">20</text>
<path d="M259.7 816.8V820.4" stroke="#000" stroke-width="1.4"/>
<text x="259.90" y="835.20" font-size="14.6" text-anchor="middle" fill="#000" font-weight="bold">25</text>
<path d="M295.8 816.8V820.4" stroke="#000" stroke-width="1.4"/>
<text x="296.00" y="835.20" font-size="14.6" text-anchor="middle" fill="#000" font-weight="bold">30</text>
<path d="M97.25 816.8V818.8" stroke="#000" stroke-width="1.1"/>
<path d="M133.35 816.8V818.8" stroke="#000" stroke-width="1.1"/>
<path d="M169.45 816.8V818.8" stroke="#000" stroke-width="1.1"/>
<path d="M205.55 816.8V818.8" stroke="#000" stroke-width="1.1"/>
<path d="M241.65 816.8V818.8" stroke="#000" stroke-width="1.1"/>
<path d="M277.75 816.8V818.8" stroke="#000" stroke-width="1.1"/>
<path d="M313.85 816.8V818.8" stroke="#000" stroke-width="1.1"/>
<text x="195.60" y="864.60" font-size="20.6" text-anchor="middle" fill="#000" font-weight="bold">Day</text>
<text transform="translate(49.4 736) rotate(-90)" font-size="21.2" font-weight="bold" text-anchor="middle">Mean (×10<tspan font-size="13" dy="-8">10</tspan><tspan dy="8"> p/sec/cm</tspan><tspan font-size="13" dy="-8">2</tspan><tspan dy="8">/sr)</tspan></text>
<path d="M211 635.9H240" stroke="#f6bda6" stroke-width="1.7"/>
<rect x="222.4" y="633" width="5.8" height="5.8" fill="#e3a622"/>
<text x="242.30" y="639.70" font-size="10.5" text-anchor="start" fill="#000" font-weight="bold">Control</text>
<path d="M211 651.7H240" stroke="#93ccb3" stroke-width="1.7"/>
<path d="M225.3 647.9L228.9 654.3H221.7Z" fill="#5da12c"/>
<text x="242.30" y="655.50" font-size="10.5" text-anchor="start" fill="#000" font-weight="bold">VPA</text>
<path d="M211 667.8H240" stroke="#5b7fc0" stroke-width="1.7"/>
<polygon points="225.3,664.2 226.19,666.58 228.72,666.69 226.74,668.27 227.42,670.71 225.3,669.31 223.18,670.71 223.86,668.27 221.88,666.69 224.41,666.58" fill="#55609e"/>
<text x="242.30" y="671.60" font-size="10.5" text-anchor="start" fill="#000" font-weight="bold">VPA+NaHS</text>
<path d="M211 682.6H240" stroke="#c291aa" stroke-width="1.7"/>
<circle cx="225.3" cy="682.6" r="2.7" fill="#f7c3c6" stroke="#f08c94" stroke-width="1"/>
<text x="242.30" y="686.40" font-size="10.5" text-anchor="start" fill="#000" font-weight="bold">VPA+SKCLS</text>
</g>
<g id="pd">
<text x="320.20" y="599.60" font-size="20.5" text-anchor="start" fill="#000" font-weight="bold">(d)</text>
<text x="390.00" y="607.40" font-size="15" text-anchor="middle" fill="#000" font-weight="bold">Control</text>
<text x="494.30" y="607.40" font-size="15" text-anchor="middle" fill="#000" font-weight="bold">VPA</text>
<text x="390.80" y="835.40" font-size="15" text-anchor="middle" fill="#000" font-weight="bold">VPA+NaHS</text>
<text x="494.30" y="835.40" font-size="15" text-anchor="middle" fill="#000" font-weight="bold">VPA+SKCLS</text>
<clipPath id="d1"><rect x="339.2" y="613.9" width="101.7" height="99.7"/></clipPath><rect x="339.2" y="613.9" width="101.7" height="99.7" fill="#4e4e4e"/><rect x="339.2" y="613.9" width="101.7" height="99.7" filter="url(#dbg)" opacity="0.9"/>
<g clip-path="url(#d1)">
<ellipse cx="370.7" cy="641.5" rx="5" ry="7" transform="rotate(-10 370.7 641.5)" fill="#5e5e5e" stroke="#9a9a9a" stroke-width="0.8" filter="url(#oblur)"/>
<circle cx="413" cy="646" r="21" fill="#575757" stroke="#666" stroke-width="0.8" filter="url(#oblur)"/>
<g filter="url(#rag2)"><ellipse cx="400" cy="643" rx="6" ry="7" fill="#8c0a08"/><ellipse cx="419.5" cy="647.5" rx="12.5" ry="14.5" fill="url(#hotL)"/><ellipse cx="410" cy="655" rx="5" ry="6" fill="#c4100a"/><ellipse cx="414" cy="624.5" rx="3" ry="3.5" fill="#d6180a"/></g>
<ellipse cx="427.6" cy="649.4" rx="2.6" ry="3.4" fill="#ffe838" filter="url(#oblur)"/><ellipse cx="416.4" cy="625.5" rx="1" ry="2.2" fill="#ffd820"/>
<ellipse cx="355.6" cy="681.6" rx="6.6" ry="15.5" transform="rotate(3 355.6 681.6)" fill="#454545" stroke="#707070" stroke-width="0.8" filter="url(#oblur)"/>
<g filter="url(#lungf)"><ellipse cx="384.95000000000005" cy="685.8" rx="11.16" ry="11.5" fill="#f4f4f4"/><ellipse cx="395.02500000000003" cy="684.65" rx="10.23" ry="9.775" fill="#fafafa"/><ellipse cx="389.6" cy="689.25" rx="7.75" ry="6.8999999999999995" fill="#ececec"/></g>
<ellipse cx="417.6" cy="687" rx="6.5" ry="9" transform="rotate(10 417.6 687)" fill="#6c6c6c" stroke="#8a8a8a" stroke-width="0.8" filter="url(#oblur)"/>
<ellipse cx="429.6" cy="685" rx="6.5" ry="9.5" transform="rotate(10 429.6 685)" fill="#6c6c6c" stroke="#8a8a8a" stroke-width="0.8" filter="url(#oblur)"/>
<g filter="url(#rag2)"><ellipse cx="426.6" cy="684" rx="4" ry="7" transform="rotate(-20 426.6 684)" fill="#a80c08"/><ellipse cx="417" cy="692.5" rx="2.6" ry="3" fill="#8c0a08"/></g>
<text x="344.80" y="625.40" font-size="8.6" text-anchor="start" fill="#f4f4f4" font-weight="bold" font-family="'Liberation Mono','DejaVu Sans Mono',monospace" textLength="22.6" lengthAdjust="spacingAndGlyphs">Heart</text>
<text x="381.70" y="625.40" font-size="8.6" text-anchor="start" fill="#f4f4f4" font-weight="bold" font-family="'Liberation Mono','DejaVu Sans Mono',monospace" textLength="22.6" lengthAdjust="spacingAndGlyphs">Liver</text>
<text x="339.80" y="707.70" font-size="8.6" text-anchor="start" fill="#f4f4f4" font-weight="bold" font-family="'Liberation Mono','DejaVu Sans Mono',monospace" textLength="27.2" lengthAdjust="spacingAndGlyphs">Spleen</text>
<text x="381.20" y="707.70" font-size="8.6" text-anchor="start" fill="#f4f4f4" font-weight="bold" font-family="'Liberation Mono','DejaVu Sans Mono',monospace" textLength="18.4" lengthAdjust="spacingAndGlyphs">Lung</text>
<text x="408.80" y="707.70" font-size="8.6" text-anchor="start" fill="#f4f4f4" font-weight="bold" font-family="'Liberation Mono','DejaVu Sans Mono',monospace" textLength="27.2" lengthAdjust="spacingAndGlyphs">Kidney</text>
</g>
<clipPath id="d2"><rect x="443.4" y="613.9" width="101.7" height="99.7"/></clipPath><rect x="443.4" y="613.9" width="101.7" height="99.7" fill="#4e4e4e"/><rect x="443.4" y="613.9" width="101.7" height="99.7" filter="url(#dbg)" opacity="0.9"/>
<g clip-path="url(#d2)">
<ellipse cx="466.4" cy="632.5" rx="4.6" ry="6.5" transform="rotate(0 466.4 632.5)" fill="#5c5c5c" stroke="#7c7c7c" stroke-width="0.8" filter="url(#oblur)"/>
<g filter="url(#oblur)"><path d="M482 632C488 622 503 619 512 626C520 620 531 622 535 630C541 640 536 652 528 658C520 664 508 661 502 663C492 664 482 656 480 646C479 640 480 636 482 632Z" fill="#858585" stroke="#a6a6a6" stroke-width="1"/><path d="M488 634C495 628 504 630 508 638C512 646 506 654 498 654" stroke="#b8b8b8" stroke-width="1.6" fill="none"/><path d="M512 630C518 636 516 648 522 654M522 628C528 634 530 644 527 652" stroke="#c8c8c8" stroke-width="1.4" fill="none"/><ellipse cx="498" cy="640" rx="8" ry="6" fill="#9a9a9a"/><ellipse cx="520" cy="641" rx="5" ry="9" fill="#979797"/></g>
<ellipse cx="454.6" cy="690" rx="4.6" ry="15" transform="rotate(8 454.6 690)" fill="#6a6a6a" stroke="#7e7e7e" stroke-width="0.8" filter="url(#oblur)"/>
<g filter="url(#lungf)"><ellipse cx="476.3" cy="691" rx="10.799999999999999" ry="15.5" fill="#f4f4f4"/><ellipse cx="486.05" cy="689.45" rx="9.9" ry="13.174999999999999" fill="#fafafa"/><ellipse cx="480.8" cy="695.65" rx="7.5" ry="9.299999999999999" fill="#ececec"/></g>
<ellipse cx="511.6" cy="693.6" rx="6.6" ry="11" transform="rotate(0 511.6 693.6)" fill="#7a7a7a" stroke="#9c9c9c" stroke-width="0.8" filter="url(#oblur)"/>
<ellipse cx="523.4" cy="693.6" rx="6.4" ry="11" transform="rotate(0 523.4 693.6)" fill="#7a7a7a" stroke="#9c9c9c" stroke-width="0.8" filter="url(#oblur)"/>
<ellipse cx="524.6" cy="695" rx="1.2" ry="2.6" fill="#7a0806"/>
</g>
<clipPath id="d3"><rect x="339.2" y="718.9" width="101.7" height="99.7"/></clipPath><rect x="339.2" y="718.9" width="101.7" height="99.7" fill="#4e4e4e"/><rect x="339.2" y="718.9" width="101.7" height="99.7" filter="url(#dbg)" opacity="0.9"/>
<g clip-path="url(#d3)">
<ellipse cx="360.8" cy="747" rx="4" ry="6.5" transform="rotate(0 360.8 747)" fill="#5e5e5e" stroke="#8a8a8a" stroke-width="0.8" filter="url(#oblur)"/>
<circle cx="404" cy="747" r="23" fill="#595959" stroke="#6c6c6c" stroke-width="1" filter="url(#oblur)"/>
<ellipse cx="408" cy="759" rx="9" ry="7" fill="#7a7a7a" filter="url(#oblur2)"/>
<g filter="url(#rag2)"><path d="M383 742C386 732 396 728 406 732L414 739L405 747C402 752 403 758 406 764L398 762C390 760 383 752 383 742Z" fill="url(#hotL)"/><ellipse cx="409.6" cy="731" rx="3" ry="4" fill="#b80e08"/><ellipse cx="420" cy="764" rx="5" ry="1.6" transform="rotate(30 420 764)" fill="#c4100a"/></g>
<ellipse cx="388" cy="745" rx="3.6" ry="6" fill="#ff8a14" opacity="0.8" filter="url(#oblur2)"/>
<ellipse cx="351.7" cy="796.5" rx="4.5" ry="14.5" transform="rotate(-5 351.7 796.5)" fill="#5a5a5a" stroke="#8e8e8e" stroke-width="0.8" filter="url(#oblur)"/>
<g filter="url(#lungf)"><ellipse cx="383.59999999999997" cy="796.5" rx="11.52" ry="12.5" fill="#f4f4f4"/><ellipse cx="394.0" cy="795.25" rx="10.56" ry="10.625" fill="#fafafa"/><ellipse cx="388.4" cy="800.25" rx="8.0" ry="7.5" fill="#ececec"/></g>
<g filter="url(#oblur)"><ellipse cx="419.6" cy="795.2" rx="5" ry="9" fill="url(#hotK2)" stroke="#6a6a6a" stroke-width="0.8"/><ellipse cx="430.6" cy="796" rx="5" ry="9" fill="url(#hotK2)" stroke="#6a6a6a" stroke-width="0.8"/></g>
</g>
<clipPath id="d4"><rect x="443.4" y="718.9" width="101.7" height="99.7"/></clipPath><rect x="443.4" y="718.9" width="101.7" height="99.7" fill="#4e4e4e"/><rect x="443.4" y="718.9" width="101.7" height="99.7" filter="url(#dbg)" opacity="0.9"/>
<g clip-path="url(#d4)">
<ellipse cx="476.8" cy="749.5" rx="4.6" ry="8.5" transform="rotate(0 476.8 749.5)" fill="#585858" stroke="#7e7e7e" stroke-width="0.8" filter="url(#oblur)"/>
<circle cx="518" cy="752" r="23" fill="#595959" stroke="#6a6a6a" stroke-width="1" filter="url(#oblur)"/>
<g filter="url(#rag2)"><path d="M502 742C506 738 510 742 510 750C514 756 520 754 522 746C524 738 532 736 538 742C542 750 540 762 532 768C524 772 510 772 504 766C498 760 498 748 502 742Z" fill="url(#hotL)"/><ellipse cx="507" cy="741" rx="2.6" ry="5" fill="#d6180a"/><ellipse cx="497" cy="734" rx="4" ry="1.6" fill="#9c0a08"/></g>
<ellipse cx="515" cy="745" rx="4" ry="6" fill="#8c8c8c" filter="url(#oblur2)"/>
<ellipse cx="461.2" cy="796.5" rx="4.5" ry="14.5" transform="rotate(8 461.2 796.5)" fill="#505050" stroke="#8a8a8a" stroke-width="0.8" filter="url(#oblur)"/>
<g filter="url(#lungf)"><ellipse cx="488.5" cy="800.4" rx="9.36" ry="10.5" fill="#f4f4f4"/><ellipse cx="496.95" cy="799.35" rx="8.58" ry="8.924999999999999" fill="#fafafa"/><ellipse cx="492.4" cy="803.55" rx="6.5" ry="6.3" fill="#ececec"/></g>
<g filter="url(#oblur)"><ellipse cx="521.2" cy="803" rx="4.2" ry="7.4" fill="url(#hotK)" stroke="#666" stroke-width="0.7"/><ellipse cx="531.6" cy="801" rx="4" ry="7.2" fill="url(#hotK)" stroke="#666" stroke-width="0.7"/></g>
</g>
</g>
<g id="pe">
<text x="553.60" y="681.00" font-size="20.5" text-anchor="start" fill="#000" font-weight="bold">(e)</text>
<rect x="580.8" y="673.8" width="152.4" height="143.0" fill="#d452b2"/>
<rect x="580.8" y="673.8" width="152.4" height="143.0" filter="url(#he1)"/>
<rect x="735.5" y="673.8" width="152.0" height="143.0" fill="#d452b2"/>
<rect x="735.5" y="673.8" width="152.0" height="143.0" filter="url(#he2)"/>
<rect x="889.5" y="673.8" width="152.3" height="143.0" fill="#d452b2"/>
<rect x="889.5" y="673.8" width="152.3" height="143.0" filter="url(#he3)"/>
<ellipse cx="803" cy="738" rx="62" ry="52" fill="url(#vpaglow)"/>
<ellipse cx="613.6" cy="679.6" rx="5" ry="3.6" transform="rotate(-25 613.6 679.6)" fill="#f6d8ea" stroke="#c04898" stroke-width="0.8"/>
<ellipse cx="680.6" cy="802" rx="5" ry="8.6" fill="#e0507c" stroke="#f2c6dc" stroke-width="1.2"/>
<path d="M1005 748C1008 744 1013 745 1014 750C1016 755 1012 760 1007 760C1003 760 1002 752 1005 748Z" fill="#fff6fb"/>
<path d="M1003 756L990 761L977 764M1008 744L1016 728M1012 752L1026 742" stroke="#f6d6ea" stroke-width="1.1" fill="none"/>
<ellipse cx="948.6" cy="716.4" rx="2.4" ry="2" fill="#fff"/><ellipse cx="935.6" cy="798" rx="2.6" ry="3" fill="#fbe6f2"/><ellipse cx="942" cy="785" rx="1.4" ry="3.4" fill="#fff"/>
<path d="M706.5 812.4H730.5" stroke="#3a2050" stroke-width="0.9"/><path d="M861 812.4H885" stroke="#3a2050" stroke-width="0.9"/>
<rect x="999.5" y="807.4" width="23" height="3" fill="#fff"/>
<text x="1009.40" y="802.20" font-size="11.6" text-anchor="middle" fill="#fff" font-weight="bold">100 μm</text>
<text x="657.50" y="835.00" font-size="15" text-anchor="middle" fill="#000" font-weight="bold">Control</text>
<text x="811.50" y="835.00" font-size="15" text-anchor="middle" fill="#000" font-weight="bold">VPA</text>
<text x="965.00" y="835.00" font-size="15" text-anchor="middle" fill="#000" font-weight="bold">VPA+SKCLS</text>
</g>
<g id="pf">
<text x="6.20" y="884.60" font-size="20.5" text-anchor="start" fill="#000" font-weight="bold">(f)</text>
<path d="M214 902C240 888 290 890 320 908C350 928 368 960 372 992C372 1010 350 1024 318 1026C280 1026 246 1010 226 984C208 958 200 922 214 902Z" fill="#fbd6c0" filter="url(#fblur)" opacity="0.92"/>
<path d="M204.6 888.4C262 878 318 892 346 932C358 950 368 972 373.4 989.4L366.6 991.6C361 974 351.6 953 340 936C314 899 262 886 205.4 895.4Z" fill="#fdf1ea" stroke="#f3ae8c" stroke-width="1.2" stroke-linejoin="round"/>
<rect x="48.2" y="919.2" width="50.2" height="31.4" rx="5.5" fill="url(#boxg)" stroke="#f5bb96" stroke-width="1.3"/>
<circle cx="98.2" cy="922" r="15" fill="url(#nrfg)"/>
<text x="74.00" y="944.20" font-size="15.2" text-anchor="middle" fill="#111" font-weight="bold" font-style="italic">Keap<tspan font-size="13">1</tspan></text>
<text x="98.80" y="929.40" font-size="11.6" text-anchor="middle" fill="#111" font-weight="bold" font-style="italic">Nrf<tspan font-size="10.0">2</tspan></text>
<path d="M113 921.4C140 916.6 166 919 185.6 926L187 919.2L201 934.4L179.6 940.6L181.6 934C162 927.6 138 925 115.4 929.6Z" fill="url(#parr)"/>
<circle cx="220.6" cy="932.2" r="13" fill="url(#nrfg)"/>
<text x="220.80" y="936.50" font-size="11.6" text-anchor="middle" fill="#111" font-weight="bold" font-style="italic">Nrf<tspan font-size="10.0">2</tspan></text>
<path d="M240 928.6C254 927.4 266 931.4 273.4 938.6L277.4 935.4L281.4 950.4L266 946L270 942.6C263.6 936 253 932.6 241 933.6Z" fill="url(#pkarr)"/>
<path d="M181.6 988C150 992.6 118 982 104.6 962.6L100.4 965.4L99.4 953.4L111.6 957.6L107.6 960.4C120 978 150 988.4 181.4 986Z" fill="url(#oarr)"/>
<path d="M72.4 952C66 964 67 978 73.6 987.4L70.6 989.4L79.8 993.4L79.2 983.4L76.4 985.4C70.6 976 70.6 964 76 954Z" fill="url(#parr2)"/>
<path d="M58.8 993.6H96.6Q102.2 993.6 102.2 999.2V1002C98.6 1004 98.6 1013.6 102.2 1016V1019Q102.2 1024.6 96.6 1024.6H58.8Q53.2 1024.6 53.2 1019V999.2Q53.2 993.6 58.8 993.6Z" fill="url(#boxg)" stroke="#f5bb96" stroke-width="1.3"/>
<text x="75.40" y="1016.40" font-size="15.2" text-anchor="middle" fill="#111" font-weight="bold" font-style="italic">Keap<tspan font-size="13">1</tspan></text>
<text x="104.00" y="1015.60" font-size="13" text-anchor="start" fill="#333" font-weight="normal">-</text>
<text x="125.60" y="1016.20" font-size="14.4" text-anchor="middle" fill="#e2405e" font-weight="bold" font-style="italic">SSH</text>
<circle cx="193.4" cy="970" r="9.4" fill="url(#grg)"/><circle cx="208.2" cy="984.2" r="8.6" fill="url(#grg)"/>
<circle cx="194" cy="984.4" r="13.6" fill="url(#h2sg)"/>
<path d="M181.6 1002.6C188 1000 200 1000 207 1002.6V1012H181.6Z" fill="url(#refl)"/>
<text x="194.20" y="988.80" font-size="12.6" text-anchor="middle" fill="#111" font-weight="bold" font-style="italic">H<tspan font-size="7.4" dy="2.2">2</tspan><tspan dy="-2.2">S</tspan></text>
<circle cx="294.6" cy="962" r="11.5" fill="url(#nrfg)"/>
<path d="M312 941C318 937 330 940 334.6 949C338 956 336.6 966 331 973C326 980 316 982 310.6 978C306 972 309 966 308.4 960C308 953 307 945 312 941Z" fill="url(#areg)"/>
<text x="298.20" y="966.40" font-size="11.2" text-anchor="middle" fill="#111" font-weight="bold" font-style="italic">Nrf<tspan font-size="9.6">2</tspan></text>
<text x="325.80" y="966.60" font-size="11.6" text-anchor="middle" fill="#111" font-weight="bold" font-style="italic">ARE</text>
<circle cx="292.8" cy="1000.6" r="11.5" fill="url(#nrfg)"/>
<path d="M311 990.6C316 987.6 328 987.6 333 992C337 998 335.6 1010 329 1014.6C322 1018 312 1016 309 1010C306.6 1003 307 994 311 990.6Z" fill="url(#lrpg)"/>
<text x="295.40" y="1005.20" font-size="11.2" text-anchor="middle" fill="#111" font-weight="bold" font-style="italic">Nrf<tspan font-size="9.6">2</tspan></text>
<text x="325.60" y="1005.40" font-size="11.6" text-anchor="middle" fill="#111" font-weight="bold" font-style="italic">LRP<tspan font-size="10">1</tspan></text>
<path d="M345.4 963.2H385M385.6 953.2V974.4M345.4 999H385M385.6 990.2V1009.6" stroke="#f4a9b8" stroke-width="1.7" fill="none"/>
<text x="396.40" y="972.00" font-size="12.6" text-anchor="start" fill="#111" font-weight="bold" font-family="'Liberation Serif','Times New Roman',serif">ROS</text>
<text x="396.40" y="1005.20" font-size="13.4" text-anchor="start" fill="#111" font-weight="bold" font-family="'Liberation Serif','Times New Roman',serif">Lipid deposition</text>
<path d="M433 968C436 962 442 958 447 958L445 964L449 968C444 970 438 970 433 968Z" fill="#f8d24c"/>
<path d="M452 964C456 960 462 962 465 966L461 969L463 975C458 974 453 970 452 964Z" fill="#f6c83e"/>
<path d="M470 956C474 953 479 954 481 958L477 960L480 965C475 966 471 962 470 956Z" fill="#f8d24c"/>
<path d="M447 980C449 974 455 973 459 976L456 980L459 985C454 987 449 985 447 980Z" fill="#f8d24c"/>
<path d="M466 982C470 978 477 978 480 974L484 978C482 984 474 988 467 987Z" fill="#f6c83e"/>
<path d="M478 968C481 966 485 967 486 970L482 973C480 972 478 970 478 968Z" fill="#f8d24c"/>
<rect x="414" y="886.4" width="138" height="56.4" rx="10" fill="url(#boxg)" stroke="#f5bd9a" stroke-width="1.4"/>
<text x="482.40" y="907.60" font-size="12.6" text-anchor="middle" fill="#f2121a" font-weight="bold" font-style="italic">Anti-inflammation</text>
<text x="482.40" y="931.40" font-size="12.1" text-anchor="middle" fill="#111" font-weight="bold" font-family="'Liberation Serif','Times New Roman',serif">Hepatocyte protection</text>
<path d="M496 994.6C510 988 516.6 974 516.6 958L512.4 958.4L519.6 947.6L525 959.4L521 958.6C521.6 976 513 992 498 997Z" fill="url(#parr3)"/>
<path id="nucp" d="M306 892C322 898 336 908 348 922" fill="none"/>
<text font-size="12.2" font-style="italic" font-weight="normal" fill="#111"><textPath href="#nucp" startOffset="2">Nucleus</textPath></text>
</g>
<g id="pg">
<text x="555.30" y="886.00" font-size="20.5" text-anchor="start" fill="#000" font-weight="bold">(g)</text>
<rect x="623.8" y="886.8" width="173.7" height="58.4" fill="#cfcfcf"/>
<rect x="623.8" y="886.8" width="173.7" height="58.4" filter="url(#gnoise)"/>
<rect x="623.8" y="945.2" width="173.7" height="57.8" fill="#f3f3f3"/>
<g filter="url(#bb1)"><path d="M635 910.6C646 909 656 908.6 670 908.6L670.5 913.2C658 913 646 914.2 635 914.8Z" fill="#8a8a8a"/><path d="M690.5 911.4C704 912.6 718 914 731.5 915L731.5 921.4C718 921 704 919 690.5 918.6Z" fill="#585858"/><path d="M749 920C760 916.2 774 915.2 786.5 915.6L786.5 920.6C774 920.6 762 921.6 749.5 924Z" fill="#6c6c6c"/></g>
<g filter="url(#bb3)"><path d="M629 966C640 964 660 964 672 966.5C673 971 670 976 660 977.5C650 977 648 978 642 978.5C634 978 628 973 629 966Z" fill="#000"/><path d="M686 969.6C698 968 718 968 730 969.6C731 974 728 979 716 980.6C704 981 694 980 688 977C685.6 975 685.4 972 686 969.6Z" fill="#050505"/><path d="M743.6 968.6C756 966.4 774 966.4 787 968.6C788.4 974 786 980 774 982C764 982.6 752 982 746 978.6C743 976 743 972 743.6 968.6Z" fill="#000"/></g>
<rect x="623.8" y="886.8" width="173.7" height="116.2" fill="none" stroke="#000" stroke-width="1.5"/>
<path d="M623.8 945.2H797.5" stroke="#000" stroke-width="1.5"/>
<text x="653.40" y="870.50" font-size="15" text-anchor="middle" fill="#262626" font-weight="bold">Control</text>
<text x="707.00" y="870.50" font-size="15" text-anchor="middle" fill="#262626" font-weight="bold">VPA</text>
<text x="764.20" y="861.30" font-size="15" text-anchor="middle" fill="#262626" font-weight="bold">VPA+</text>
<text x="764.60" y="879.50" font-size="15" text-anchor="middle" fill="#262626" font-weight="bold">SKCLS</text>
<text x="594.50" y="912.00" font-size="15" text-anchor="middle" fill="#262626" font-weight="bold">Nrf2</text>
<text x="594.00" y="928.00" font-size="12" text-anchor="middle" fill="#262626" font-weight="bold">(100 kda)</text>
<text x="594.80" y="970.00" font-size="15" text-anchor="middle" fill="#262626" font-weight="bold">β-actin</text>
<text x="595.00" y="985.80" font-size="12" text-anchor="middle" fill="#262626" font-weight="bold">(42 kda)</text>
<rect x="868.3" y="888" width="173.7" height="58.4" fill="#f1f1f1"/>
<rect x="868.3" y="946.4" width="173.7" height="58.1" fill="#efefef"/>
<g filter="url(#bb2)"><rect x="886" y="911.5" width="35" height="8" fill="#9c9c9c"/><rect x="941" y="912" width="32" height="6" fill="#dcdcdc"/><rect x="997" y="913" width="33" height="8.6" fill="#a6a6a6"/></g>
<g filter="url(#bb3)"><path d="M874.6 968C890 965.6 910 966 924.6 968.6C926 973 925.6 977 922 979.6C908 983.6 890 983.6 877 979.6C873.6 977 873.6 972 874.6 968Z" fill="#000"/><path d="M926 970C940 967.6 962 967.6 976 970C977 975 976 979 972 981.6C960 985 942 985 930 981.6C926 979 925.4 974 926 970Z" fill="#000"/><path d="M978 969.6C992 967 1012 967 1026.6 969.6C1028 974 1027 978 1023 980.6C1010 984 992 984 981 980.6C977.6 978 977.4 973.6 978 969.6Z" fill="#000"/></g>
<ellipse cx="1036" cy="977.5" rx="3" ry="4" fill="#d8d8d8" filter="url(#bb1)"/>
<rect x="868.3" y="888" width="173.7" height="116.5" fill="none" stroke="#000" stroke-width="1.5"/>
<path d="M868.3 946.4H1042" stroke="#000" stroke-width="1.5"/>
<text x="901.00" y="870.50" font-size="15" text-anchor="middle" fill="#262626" font-weight="bold">Control</text>
<text x="954.50" y="870.50" font-size="15" text-anchor="middle" fill="#262626" font-weight="bold">VPA</text>
<text x="1012.20" y="861.30" font-size="15" text-anchor="middle" fill="#262626" font-weight="bold">VPA+</text>
<text x="1012.50" y="879.50" font-size="15" text-anchor="middle" fill="#262626" font-weight="bold">SKCLS</text>
<text x="838.80" y="912.50" font-size="15" text-anchor="middle" fill="#262626" font-weight="bold">Keap1</text>
<text x="839.20" y="928.80" font-size="12" text-anchor="middle" fill="#262626" font-weight="bold">(65 kda)</text>
<text x="838.80" y="971.30" font-size="15" text-anchor="middle" fill="#262626" font-weight="bold">β-actin</text>
<text x="839.00" y="987.00" font-size="12" text-anchor="middle" fill="#262626" font-weight="bold">(42 kda)</text>
</g>
</svg>
</body></html>
